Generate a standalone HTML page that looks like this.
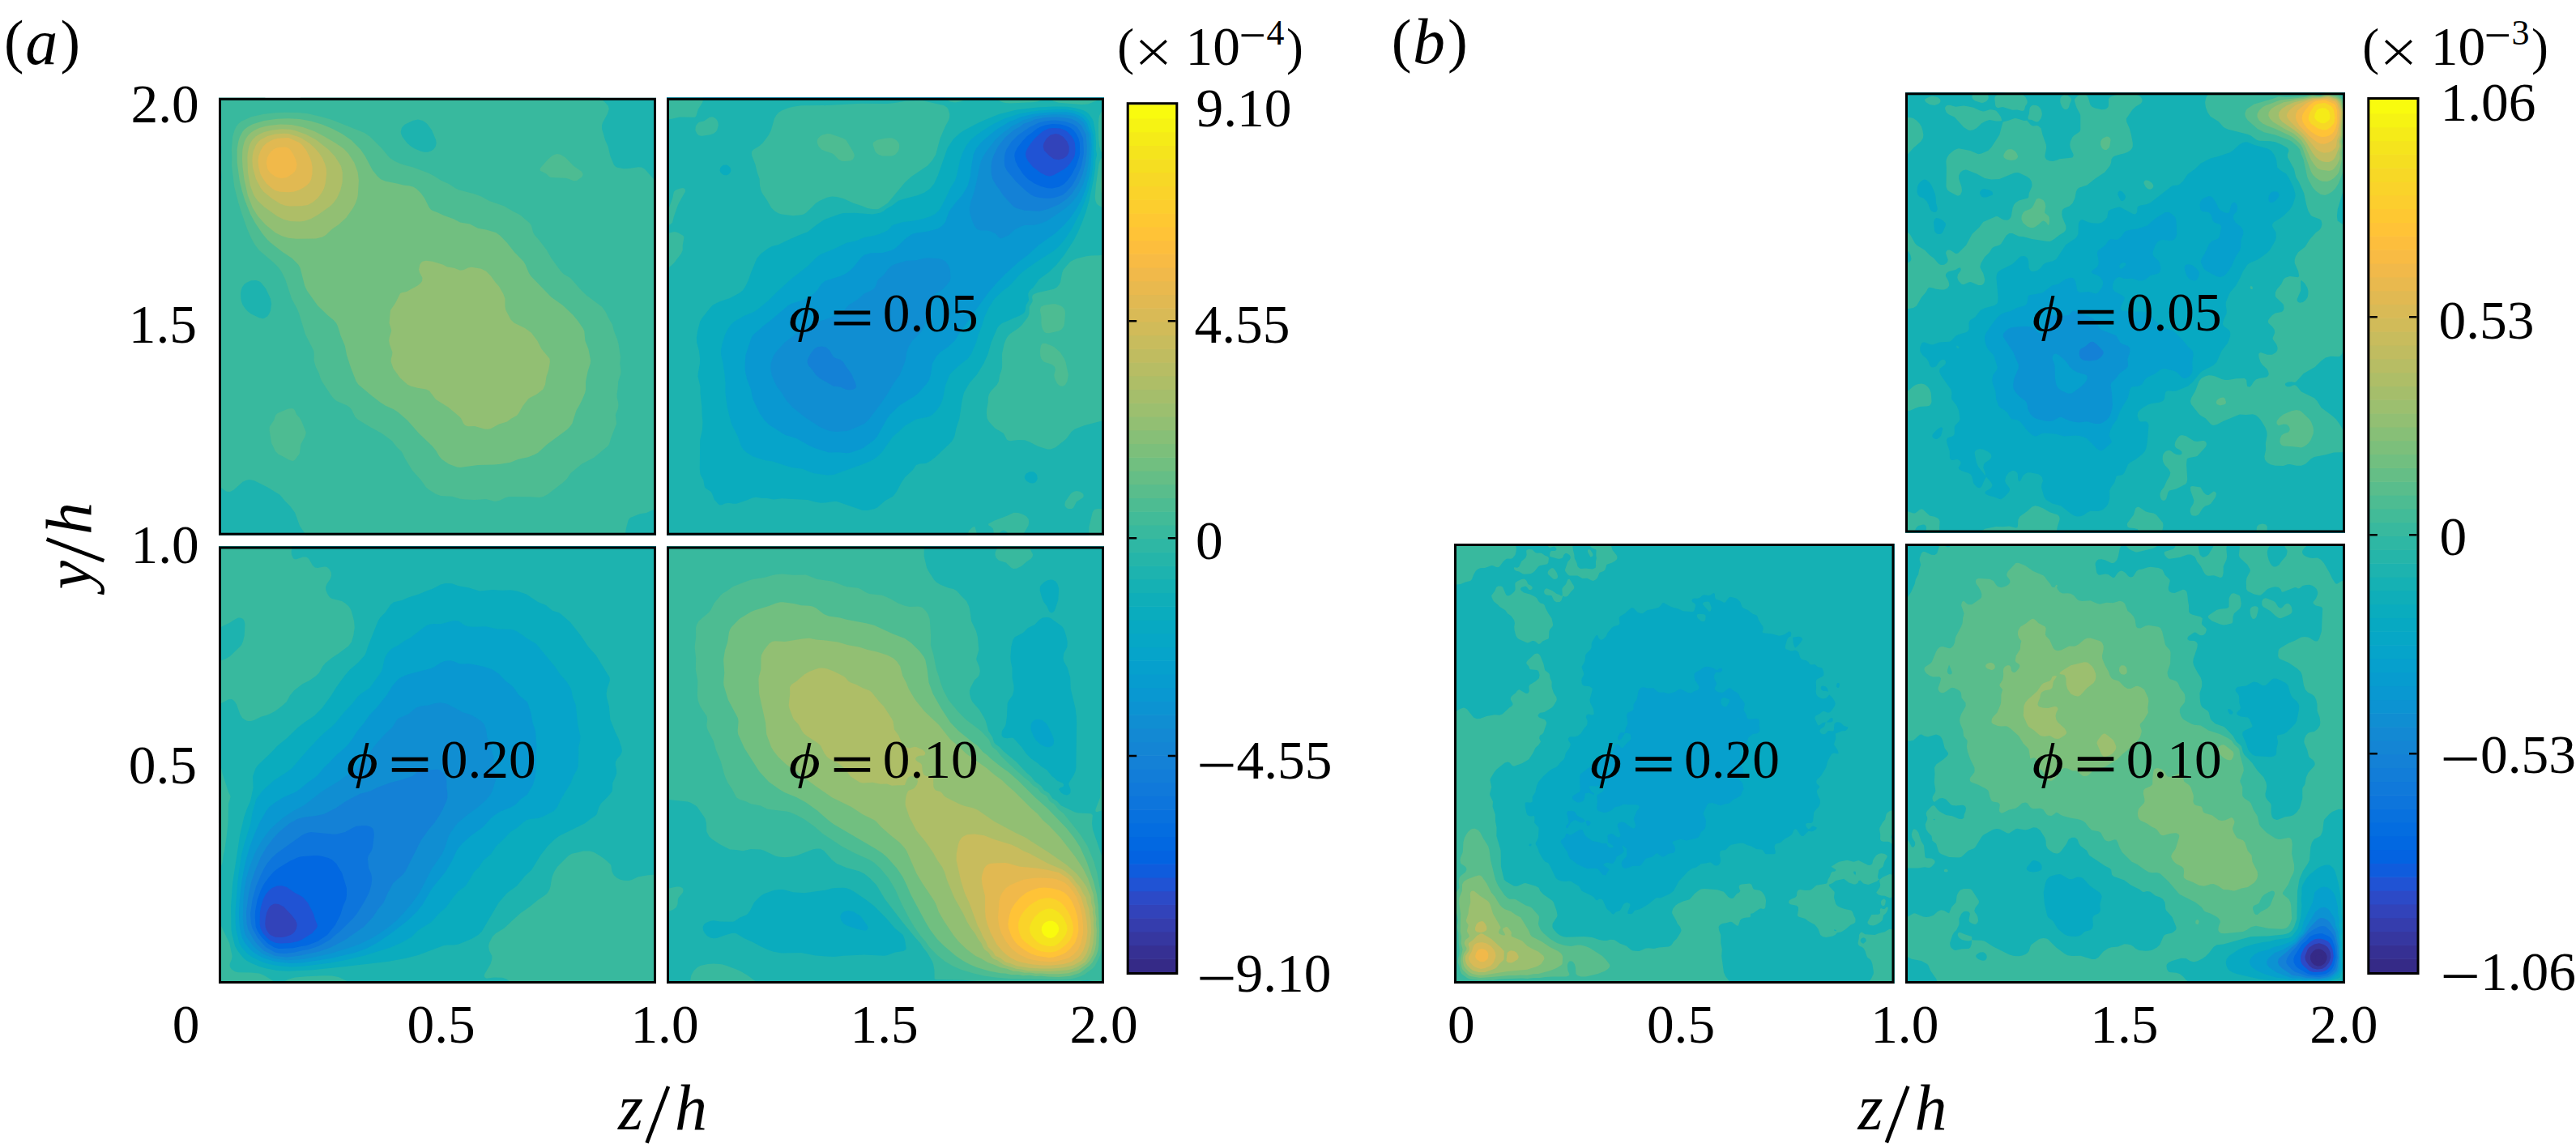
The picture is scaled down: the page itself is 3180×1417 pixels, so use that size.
<!DOCTYPE html>
<html><head><meta charset="utf-8"><title>figure</title>
<style>html,body{margin:0;padding:0;background:#fff}svg{display:block}</style></head>
<body>
<svg width="3180" height="1417" viewBox="0 0 3180 1417" font-family="Liberation Serif, serif" fill="#000">
<rect width="3180" height="1417" fill="#fff"/>
<g transform="translate(270,120.8)">
<g transform="scale(1.00000,0.99981)">
<g fill-rule="evenodd"><rect width="540" height="540" fill="#1db3af"/><path fill="#38b99e" d="M0 0l56.4 0 7.6 1 14-.7 14 1.3 4-.3 5.2-1.3 369.5 0 7.3 6.6 2.8 3.4 1 4-2 6-5.8 10.5-1 3.5 0 4 4 14 3.6 8 2.8 12 4.6 10.9 2 2 2 1 8 1.5 6-.1 12-1.9 4 .2 4 2.4 10 11.3 4 2.9 0 405.4-4 1-8 3.6-8 1.3-12 4.9-1.6 1.6-1 2-2.6 10-1.2 8-393.8 0-7.8-11.8-5.9-16.2-6.1-8.3-6-5.8-6.5-7.9-15.5-9.5-16-7.9-6-1.3-4 .7-4.4 2-11.2 10-4.4 2.4-4-.4-3.5-2-5-4-1.5-1.5 0-363.9 2.7-8.6 .9-8-.4-6-1.8-12 1.8-12 0-8-.8-6-2.4-8.9zM40 225.6l-6 2.6-2.3 1.8-2.9 4-1.3 4-.5 4 .3 6 .9 4 1.6 4 2.8 4 3.4 3.7 4 3.1 10 4.8 4 1 2-.3 4-2.6 2-2.6 2-4.4 1.1-8.7-1.1-6-6-12.7-5.9-7.3-2.1-1.4-4-1.3zM240 27.9l-10 4.7-3.4 3.4-1 2-.8 4 .2 2 1.6 4 6.1 8 4.7 4 4.6 2.8 7.6 3.2 4.4 1 4 0 4-1.2 2.7-1.8 1.8-2 1.2-2 1-4-.6-4-5-12-5.1-7.1-2-2-4-2.6-6-1.5z"/><path fill="#4dbc92" d="M81.5 18l16.5 .2 12 1.2 16 3.7 14 4.2 40 16 6.8 4.7 14.1 14 10.1 12 5.8 4 7.2 3.1 8 2.6 8 1.9 18 6.8 7.1 3.6 8.9 5.8 10 4.3 8 5.4 4 1.9 20 5.2 8 3.2 10 5.3 18 6.4 11.1 6.5 8.9 4.5 12 10.3 2 3.2 2.1 8 1.9 3.4 5.8 6.6 9.1 12 5.7 10 11.7 16 3.7 3.7 8 4.5 13.9 15.8 6.1 5.8 19.1 14.2 4.4 6 3.8 8 4.7 8 2 8 4 10 1.6 6 2.3 16-.7 8 1.3 10-.7 4-2.6 8-.7 10-1 6 .2 4 1.5 6 .2 4-.6 4-2.6 6-.3 2 1.2 10-6.9 18-2.2 7.5-1.9 2.5-16.8 14-15.3 8.1-12.1 9.9-2 2-3.9 6-4 4-20 15.5-6 3.1-4 .6-12-.7-26-.2-4 1.2-8 3.7-4 .9-2-.1-10-2.7-14 1.1-14-.9-4-.5-10-2.9-14-.9-6-2.1-8-5-4-3.4-6.1-8.7-10.8-12-8.6-14-4.5-9-6-5.7-6-7.7-12.9-9.6-15.1-8.1-14-8.5-3.5-3.4-4.5-9.2-2.4-2.8-3.6-2.4-12-5.2-4-3.1-2.7-3.3-11.9-18-1.9-4-1.7-6-4-8-2.3-8 .3-8-.6-4-10.2-20-7.9-26-2.5-6-6.5-12-8.1-24.6-4.9-9.4-3.1-4.6-6-6-18-15.2-4.8-6.2-4.7-8-5.3-12-6.3-18-4.5-14-5.1-20-3.2-26 .3-10-.5-10 1.3-16 2.3-8 2.5-5.1 2.3-2.9 3.7-3.1 12-5.5 16-3.4 14-1.5zM414.6 70l3.4-.7 4 .6 6 3.7 10 10.4 10 6.9 1.6 3.1-.3 2-1.4 2-5.9 4.1-4 .4-6-2.5-4-1-18-.9-2-.8-4-3.8-7.1-3.5-.4-2 1.1-2 8.8-10 4.7-4zM85.2 384l4.8-.8 2.3 .8 1.7 1.8 2 4.9 4 4.5 1.7 2.8 5.8 14 .2 2-1.1 4-5.5 10-1.1 10.2-.8 1.8-5.2 6.7-2 1.5-2-.1-4-1.5-6-3.6-6.2-3-3.8-3.7-4.9-10.3-2.5-16 .2-4 5.3-8 2-6 1.7-2 2.2-1.3z"/><path fill="#71bf80" d="M72.2 26l13.8-.5 14 .7 14 2.5 14 4.2 12 5 12 6.2 12 8.4 11.3 11.5 5.4 8 9.3 17.5 6 7.2 4 3.7 6 2.6 14 2.6 8 2.2 8 .9 4.4 1.3 3.6 2.2 5.8 5.8 4.3 6 5.9 11.7 2 2.3 2 1.3 6 2.1 8 3.9 12 4.2 8 4.2 12 2.1 10 5.1 10 1.8 12 3.6 5.3 3.7 8.7 9 8.6 11 11.7 12 2.3 4 4.2 10 2.5 4 25.2 26 14.1 10 12.7 12 6.5 8 6.2 9.1 1.3 2.9 1.1 12 4 10 2.7 14-.4 4-3.2 10-2.4 12 0 10-.9 4-2.2 5.4-4 8.6-4.6 8-5.1 16-2.3 3.4-4 4.2-25 18.4-10.8 10-4.2 2.4-8 3.1-12 2.6-10 4-12 1.9-8 .9-20 .4-22 3-4-.4-10-3.9-8.8-6-3.2-4-4-6.8-4.2-5.2-16.8-16-14.1-16-11.5-10-5.4-3.5-10-4.6-6-3.6-12-9.2-15.5-13.1-2.8-4-6.3-16-5.4-16.6-2.2-11.4-5.1-12-3.7-12-1.9-4-3.1-3.6-7.9-6.4-12.1-11.8-13-18.2-2.8-6-5.6-22-2.2-4-7.9-8-12.5-8.2-14-11-4-3.9-6-7.1-9.2-13.8-5.5-10-7.2-18-3.6-12-2.8-12-3-22-.1-16 1.6-10 1.8-5.9 3.3-6.1 2.7-3.2 4-3.1 6-3.3 14-4.3z"/><path fill="#92bf73" d="M63.9 34l12.1-1.3 14 .4 14 3.1 14 5.1 12 6.1 14 8.4 10 6.7 6 6.1 7.3 11.4 4.4 12 1.2 10-1.1 18-.8 4-2.1 6-3.1 6-8.5 12-9.3 8.4-8.1 5.6-7.9 7.5-4 2.3-8 1.9-24 .4-10-1.1-8-2.5-8-4-12-9.8-9.7-10.7-6.3-10-6-15.2-4.6-20.8-1.8-14-.6-10 .2-10 .9-6 1.7-6 1.9-4 2.9-4 3.4-3.2 4.2-2.8 5.8-2.7 8-2.3zM251.6 202l4.4-1.1 8 1 13 4.1 5 2.8 8.4 1.2 7.6 2.9 4-.3 6-2.9 4-.8 12 2.1 6 3 6 6 5.7 8 4.3 4.7 5.3 9.3 2.2 6 0 10 .8 4 6.4 12 4.2 4 13.1 6.2 7.9 5.8 7.5 10 5.1 10 10 12 .4 4-1.7 10-2.7 8-1.5 10-2.8 6-8.2 6.3-7.5 3.7-2.5 1.8-6.4 8.2-5.6 9.7-1.9 2.3-7.2 4-4.9 3.7-10 3.1-10 5.4-4 .8-4-.3-12-3.5-8 .3-2-.4-2-1-1.8-2.1-2.9-6-1.5-2-14.3-12-15.5-9.8-8-10.5-4-1.9-10.9-1.8-7.6-2-4.3-2-9-8-8.7-12-2.8-8 .1-4 1.2-4 .4-4-3.5-10-.8-4 .6-4 2.4-8-.1-2-2.5-8 1.5-15.7 6-8.9 6-11.8 2-1.2 6-1.2 14-7.7 3.9-3.5 1.2-2 .3-4-3.4-6.2-1-3.8 1.3-6 1.7-2.7z"/><path fill="#aebe67" d="M65.3 40l12.7-1.5 10 .5 6 1.1 14 5 12.5 6.9 15.2 12 7.5 8 7.7 12 1.9 8-.1 12-2.4 10-4.3 9.7-4.6 6.3-4.2 4-15.2 10.8-8 4.5-8 2.7-6 .8-12-.5-8-2.2-8-4.2-16-11.5-8-7.5-4-5.8-1.5-3.1-3.7-10-2.8-16-.7-18 .5-6 1.6-8 1.6-4 2.4-4 4.6-4.6 4-2.5 6-2.7z"/><path fill="#c8bc5d" d="M79.9 44l6.1 .2 12 3.8 4 1.8 9.9 6.2 6.7 6 5.2 6 4 6 3.5 8 1.5 6 .3 6-1.5 12-1.7 6-3.3 6-4.6 5.9-6 5-6 3.3-8 1.2-14 .4-6-.8-6-2.4-10-6.1-10.5-8.5-3.5-4.5-6.1-11.5-3.8-14-.7-8 .3-6 1-6 3.4-8 3.1-4 2.2-2 8.6-4.8 10-2.5z"/><path fill="#e1b952" d="M72.3 50l13.7-.7 14 6.1 2.8 2.6 4.8 6 5.1 10 1.9 6 1 6-.2 8-1.4 6.8-2 3.9-3.2 3.3-4.8 3.2-6 2.9-6 1.8-6 .5-10-.4-6-1.6-4-2.5-6.9-5.9-5.1-7.4-2.5-4.6-2.1-8-.8-8 .7-6 2.7-7.4 2.8-4.6 4.2-4 7-4z"/><path fill="#f1b94a" d="M70.8 62l3.2-.8 8-.4 4 1.1 2.3 2.1 3.7 5.7 3 6.3 1.5 6-1 6-1.5 2.6-3.4 3.4-6.6 4.2-6 1-4-.5-4-1.4-6-4.4-2.4-2.9-1.6-3-1.2-7 1.2-6.2 2-4 2.9-3.8 3.1-2.6z"/></g>
</g>
<rect x="1.5" y="1.5" width="537.0" height="536.9000000000001" fill="none" stroke="#000" stroke-width="3.0"/>
</g>
<g transform="translate(823,120.8)">
<g transform="scale(1.00000,0.99981)">
<g fill-rule="evenodd"><rect width="540" height="540" fill="#3243ba"/><path fill="#2053d4" d="M0 0l540 0 0 540-540 0zM474 45.8l-4.9 4.2-3.6 6-.8 4 1.3 4.9 6.9 7.1 5.1 3.4 6 1 6-1.7 4-3.1 2-3.4 .6-2.2 .1-6-2.3-6-5.1-6-5.3-3.1-4-.6z"/><path fill="#0268e1" d="M0 0l540 0 0 540-540 0zM472 37.8l-5.4 2.2-3.2 2-8.9 8-4.9 6-4 6-2 4-.6 4 .9 4 2.1 3.9 6 7.3 10 7.6 6 2.8 4 1 2-.1 4-1.2 12-6.8 4-3.1 4-4.4 4.5-7 1.5-4 .5-6-.5-8-1.4-4-2.6-4.5-5.2-5.5-3.1-2-5.7-2.2-8-.7z"/><path fill="#0d75dc" d="M0 0l540 0 0 540-540 0zM468 33.5l-6 2-4.8 2.5-13 10-5.5 6-6.1 8-2.9 6-.4 4 1.3 6 2.7 6 6.7 10.2 5.5 5.8 8.5 5.7 8 3.6 8 2.2 6 .2 8-1.7 6-3.3 4.8-4.7 5.2-7.2 5.5-10.8 4-12 .6-4-.2-12-1.5-6-3-6-3.4-4.3-4-3-6-2.6-6-1.4-10-.5z"/><path fill="#1481d6" d="M0 0l540 0 0 540-540 0zM474 27.9l-8 1-6 1.6-12 5.7-14.1 9.8-8.1 8-6.6 10-1.8 6-.7 8 .5 6 2.9 6 11.8 14 12.1 11.3 6 4.4 4 2 6 1.5 10 .9 8-.6 10-3.4 4-2.7 8-8.5 6-10.5 4.5-10.4 2-6 2.4-14-.8-18-4.1-9.1-3.5-4.9-4.5-3.3-10-3.6-12-1.3z"/><path fill="#108ed2" d="M0 0l540 0 0 540-540 0zM186 307.6l-4 2.4-4.5 6-3.2 6-.7 4 1.1 4 5.3 6 4.2 6 4.5 4 17.3 10 8 .7 7.3 3.3 2.7 .6 4 0 4-1.3 1.3-1.3 .7-2-1-4-5.3-12-6.1-8-3.7-6-3.9-3-6-1.9-2-1.1-4.7-8-4.4-4-4.9-1.3zM474 23.9l-6 .4-14 2.3-6 3.1-7.4 2.3-4.6 3.8-7.7 4.2-10.3 8.8-7.4 9.2-2.6 4-4.7 10-1.9 6-.9 6 .3 10 1.5 6 3.7 6.8 5.4 7.2 3.6 6 13 14 4 2.2 10 2.8 18 .9 10-2.4 14-5.9 10-6.9 6.5-6.7 7.9-12 5.1-12 3.6-14 1.5-12 .2-8-1-14-5.8-11.8-6-5.2-6.3-3-9.7-1.6-8-.6z"/><path fill="#0998d1" d="M0 0l540 0 0 540-540 0zM318 197.9l-10 2.7-12 .4-14 4.2-4 1.9-5.2 4.9-4.8 6.6-6.6 5.4-1.3 2-2.1 6.4-2 3-3.9 2.6-8.1 3.5-8 7.2-11.6 7.3-6.4 7.7-2 1.7-16 6.6-18 6.5-8 3.9-8 5.6-7 4-13 9.7-10 10.7-4 5.6-3.5 10-.4 6 1.6 8 3.1 8 3.1 6 6 8 6.2 10 7.9 8.5 14.3 11.5 18.4 12 7.3 3.6 8 2.2 6 .4 12-1 4-.9 18-8 6-5.7 15.4-20.6 8-12 7-12 7.6-10.5 6.8-17.5 1.4-10 2.2-6 4.6-8 10.2-10 2.7-4 3.2-8 1.7-10 9.3-24 1.9-2.3 8-4.6 6.7-7.1 2.9-4 .8-4-.6-10-2.5-6-3.3-4.2-4-2.4-4-.9-14-1.1zM462 21.8l-8 1.2-8 3-6 1.4-6 3.8-8 3.7-4 3.3-6 3.9-10 9.4-9.9 12.5-5.2 8-2.9 6.5-1.7 5.5-3.4 18-3.4 14-4 12-1.6 8 .2 6 3.1 10 2.8 6.1 2 2.8 2 1.7 4 1.2 8 0 4 .9 6.4 3.3 3.6 4.5 2 1 2-.3 8-3.4 8-7.4 8-3.9 4-1.2 12-.3 10-2.8 6-2.7 18-12 10-8.1 4-4.3 6-8.2 5.6-10.9 4.1-12 2.5-12 1.3-12 .8-14-.8-4 0-8-.4-2-2.4-4-2.7-7.3-2-2.9-4.9-3.8-5.1-3-4-1.1-8-1.2-14-.3z"/><path fill="#06a4ca" d="M0 0l540 0 0 540-540 0zM474 17.8l-12 .9-12 1.8-13.9 3.5-6.1 3-6 1.9-15.3 9.1-8.7 6.6-12 10.6-6 7.6-3.3 7.2-2.8 16-1 10-2.5 10-1.5 4-6 10-8.9 10.2-7.3 9.8-4.7 13.2-2 2.9-4 3.5-4 2.1-6 1.9-8 1.6-12 1.5-4.6 1.3-7.4 4.8-14 13.1-6 2.9-10 2.5-14 .3-8.1 2.4-3.9 3.1-10 12.7-6 5.3-4 2.5-5.5 2.4-19 6-4.8 4-5.2 8-4.2 4-5.3 3.6-8 4.2-14 4.2-4 2.2-22 18.9-9.5 6.9-4.5 4.6-6.8 5.4-2.6 4-7.3 22-.8 14 .5 6 2.3 10 4.8 12 1.8 10 1.5 4 7.7 16 5.7 8 5.2 5.4 20 12.6 14 4.2 16 9 8 3.6 16 4.9 12-.2 10 1.1 4-.3 12-3.9 4-1.9 14-10 3.8-4.5 12.3-22 3.9-5.2 12-11.6 18-10.9 5.1-4.3 10.6-12 2.3-3.6 1.9-6.4 2-14 4.5-8 5.3-6 8.3-5.5 9.4-8.5 8.8-14 9.8-12.4 7.6-11.6 15.8-22 10.6-12.3 10-10.3 18-16.2 9.9-7.2 13-12 21.1-15 10-9.6 8-8.9 8-11.8 6-10.9 6-15.3 1.3-6.5 2-6 2.2-14 1.2-24-1.1-16-1.9-4-2.5-8-1.1-2-4.1-4.8-4.6-3.2-7.4-3-8-1.5z"/><path fill="#0aacbe" d="M0 0l540 0 0 540-540 0zM460 15.8l-10 1.1-14 2.5-18 5.8-14 6.8-6 3.5-14 9.1-8.8 7.4-6 8-4 8-2.8 8-4.4 20-1.9 6-6.1 9.8-5.6 12.2-6.4 12.1-2 2.9-4 4-6 3.2-10 3.3-14 2.8-10 1-12 3.5-2.3 1.2-3.1 4-2.4 2-9.1 4-6.6 2-12.5 2.3-10 4.1-12 2.6-16 7.7-16 6.6-4 2.8-12.2 11.9-20.6 16-17.2 15.8-10.3 10.2-13.7 11.6-4 2.5-12 4.8-12.4 7.1-4.5 4-3.9 6-3 6-3.8 12-1.4 8 .3 6 1.9 8 2.4 16 .9 10-.1 12 2.4 18 5 20 8.1 16 4 12 2.7 4 3.4 3.4 8 5.1 12 4.1 4 1 8 .9 24 7.7 14 1.9 10 4.3 4 1.2 16 2.1 8-.5 34-12.1 10-4 5.8-3.1 5.3-4 4.9-5 13.3-19 6.7-5.5 8-7.6 14-8.2 16-3.3 4-2.4 4-3.7 5.3-7.3 2.7-5.9 1.7-6.1 2-12 5.5-14 2.8-3.5 10-9 9.6-7.5 4.4-6 6.1-14 2.7-10 4.1-10 3.5-12 5.6-11.6 6.6-10.4 10.6-10 8.1-6 12.5-14 4.6-4 16.8-12 20.8-13.2 6-5.3 8-9.4 8-12 11.1-22.1 5.7-14 4.4-14 3.1-14 2-14 0-6 1-8-.7-24-4.6-16.6-4-5.4-4-3.6-4.8-2.4-7.2-2.3-10-1.4-14 .1z"/><path fill="#1db3af" d="M0 0l540 0 0 540-540 0zM70 82.9l-2 1.3-2 2.5-.4 3.3 .8 2 3.6 3.1 4 .4 2-.8 2.7-2.7 .6-2-.2-2-.9-2-2.2-2.4-2-1zM458 11.8l-26 2.8-22 5.6-16 6.5-10 4.6-16.6 8.7-5.4 3.4-8 7.2-7.4 11.4-11.9 34-4.6 10-4.8 6-7.3 5-8 3.3-18 4.6-6 2.1-8 6.2-6 3.2-4.5 3.6-3.5 1.8-10 1.9-22-1.8-14 .3-4 1-16 5.7-4 1.9-8 5.3-12 9.3-10 3.8-18 8-8 4.1-8 1.9-4 2-9.2 6.8-5.4 6-7.4 18-3.5 10-4 8-3 4-3.5 2.7-12 6.5-12 4.1-5.8 2.7-3.4 2-2.8 2.7-10.5 13.3-2.3 4-3.1 12-1.2 8 .2 6 2.8 10 1.2 10-.2 6-2.2 12-.2 4 2.9 12 .2 10 1.8 16 .1 8 .9 10-.5 10-2.7 12-.4 36 .6 6 .6 2 3.4 6 1.4 8 1.4 2 6.2 4 1.4 2 3 8 5.2 5.8 2 .9 2-.1 4-1.7 4-.8 6 1 4-.1 12-3.9 8-3.3 4-.8 8 1.3 6 .1 8 1.4 10-1.2 32 1.6 10 2.9 6 .9 6-.2 10-1.6 4 0 32 11 6 .2 8-1.8 4-1.8 10-8.7 8-4.3 2-1.6 3.9-5.2 6.1-11.4 4.4-6.6 8.9-8 4.7-6.8 4-1.4 8-.5 6-3.3 6-4.7 20-19 3.3-6.3 2.1-10 4-12 3.2-22 2.3-10 6.9-12 8.9-10 8.6-14 5.4-12 3.9-14 7.4-17.6 2-2.8 4-3.3 22-9.5 4-2.4 2-2.1 .8-2.3 .7-6 3.6-6-1-8 1.9-3.9 4.6-4.1 7.4-10.2 12-8.8 9.3-9 9.5-12 11.7-18 5.2-10 5-12 5.2-14 3.8-14 5.4-26 2-14 .2-8 1.8-8-1.3-6 .3-8-1-14-2.1-12-1.5-4-4.3-6-3.2-2.7-4-2-10-2.9-10-1.4-16-.4zM448 461.6l-4 2.2-1.7 2.2-.5 2 .3 2 1.9 2.7 4 2.6 4 .5 2-.5 1.7-1.3 1.4-2 .6-2-.5-4-1.3-2-1.9-1.6-2-.9z"/><path fill="#38b99e" d="M3.4 0l41.9 0 0 2-1.3 4-5.1 8-2.4 8-.5 1-1.4 1-18.6-.2-10 2.2-6 .5 0-22.2 2.6-2.3zM343.1 0l32.2 0-13.3 4.6-6 1.1-6-1.1zM403.9 0l136.1 0 0 137-7.9-5-1.7-2-1.3-4-.4-4 1.3-15.5 3.5-24.5 1.1-4 3.3-6 .2-2-2.8-6-1.1-4-1-10-.2-16 .4-8 .7-4 4.1-8 1.2-4-.1-2-1.3-2.8-2-1.6-4-.6-12 4.8-8 .4-28-2.3-6-1.8-6-2.8-2-.4-4 .8-8 2.7-6 1-28 1.4-6-.6-4-1.1zM295.2 4l20.8-.6 26 5.7 4 2.7 1.5 2.2 1.8 6-.2 4-1.2 4-3.9 7-6.5 15-5.3 20-4.2 7-6 6.7-20 13.6-8 7.1-21.2 25.6-10.8 7-2 .6-6-.3-6-1-8-3.4-9.5-2.9-12.5-5.9-8-1.9-6-.6-6 1.3-10 4.5-4 2.9-12 11.6-3.6 2.1-2.4 .6-10 1-14-1.8-4-1.3-4-2.2-4.6-4.3-5.8-10-5.5-8-1.8-4-1.3-6-.4-8-2.9-8-2.3-10-4-10-.6-4 .5-2 1.7-2 7-4.4 4.4-3.6 7.5-10 3-6 3.9-14 2.1-4 3.1-3.7 4-2.5 8-3.4 6-1.5 10-1.4 32-.2 42-2.3 32 .1 8-.7zM52.9 24l3.1-.6 2 .5 2 1.2 2 2.2 1.3 2.7 .5 4-1.6 6-1.6 2-2.6 2-4 1.4-10 1.6-2 0-2.9-1-1.9-2-1.8-4 .3-4 .7-2 1.6-2.3 2-1.7 6-1.4zM15.9 112l4.1-.7 2 .6 1.1 2.1-.3 2-7.9 14-1.7 4-4.1 12-2.1 8-2 2-5 1.5 0-19.3 2-1.1 .7-1.1 4.5-12 1.7-8 2-2zM6.4 166l3.6-.7 4 1.1 6.2 3.6 1.3 2-1.8 10 0 6-1.7 4-9.1 12-4.9 4.4-4 2 0-42.7zM536.9 194l3.1-1.7 0 205.8-24 6.2-12 4.6-4.2 3.1-5.8 8-2 2-12 9.5-6 2.3-4 0-11.9-3.8-10.1-5.3-6-2.2-8-.2-10 1.2-2-.4-2-1.1-4.2-8-10.3-6-7.5-8-2.3-4-.8-6 .3-6 1.5-8 .2-6 .9-4 2.5-4 7.5-8 2.1-4 1.3-8 2.2-6 .7-4-.1-16 2.6-12 2.2-6 2.6-4 2.6-2.7 10-6.9 4-3.5 8-10.4 1.6-4.5 .1-8 3.7-6 .3-2-.7-4 1-2.7 2-1.4 4-1.4 20-4.4 3.4-2.1 2.6-2.8 2-3.4 2.2-11.8 1.5-4 8.3-9.5 4-2.3 4-1.6 12-3 6-.9 10-.2zM502.9 486l3.1-.6 4 .6 3.2 2 1.4 2 .1 2-1.5 2-7.2 4.5-4 7.5-2 1.4-4-.1-2-.8-2.3-2.5-.3-2 .6-3.4 6-8.9 2-2.1zM528.4 508l3.6-.6 8 .2 0 32.4-18.5 0-.2-10 4.3-18 .9-2zM428.5 512l5.5 .2 5.3 1.8 4.7 2.5 2.7 3.5 .5 4-.8 4-4.6 8-1.7 4-17.8 0-2.3-4.1-2-1.4-2-.6-2 .3-2 1.3-1.3 2.5-.2 2-7.2 0 .4-4-.8-4-2.9-3-2.4-1-.8-2 7.4-4 15.8-5.9zM377.5 530l2.5-.8 .7 .8 2.8 10-12.2 0 .7-3.3 1.4-2.7zM0 540l0-.8 .6 .8z"/><path fill="#4dbc92" d="M539.8 36l.2-.9 0 22.4-1.5-9.5zM191.7 46l6.3-1.8 4 .3 16 5.5 3.4 2 8.6 14.3 1.6 3.7 .2 2-1.8 3.6-2 1.5-2 .6-6 .6-4-.4-3.9-1.9-5.6-6-2.5-1.5-12.7-4.5-3.6-4-1.7-3.7-.3-2.3 .2-2 1.1-2 1.8-2zM269.3 50l6.7-.6 3.3 .6 3.9 2 2.8 3 1.2 3-.1 4-1.3 4-3.5 4-4.3 1.8-12-.1-4.5-1.7-2.6-2-1.6-2-2.7-8 .1-2 1.3-1.9 4-2.1zM539.9 82l.1 41.2-2.3-3.2-1.4-4-.8-8 1.4-16zM465.9 256l10.1-1.6 4 .2 6 1.9 2.5 1.5 1.9 2 1 2 .6 4-.9 12-.8 4-3 4-3.3 1.7-12 2.8-4-.2-2-1.6-2-3.5-1.1-3.2-.5-4 0-8-1.6-8 1.2-4.1zM463.1 304l.9-.7 2-.4 2 .4 8 3 2.8 1.7 6.9 6 5.1 8 1.7 4 3.4 16-1.4 8-2.3 4-2.2 1.5-2 .5-2-.3-2-1.1-2-2.2-2-3.7-1.6-4.7-.1-2 1.5-6-.2-2-.8-2-2-2-2.8-1.5-8.2-2.5-3.4-4-1.2-4-.2-6 .9-6z"/></g>
</g>
<rect x="1.5" y="1.5" width="537.0" height="536.9000000000001" fill="none" stroke="#000" stroke-width="3.0"/>
</g>
<g transform="translate(270,674.5)">
<g transform="scale(1.00093,1.00000)">
<g fill-rule="evenodd"><rect width="539.5" height="539.5" fill="#3243ba"/><path fill="#2053d4" d="M0 0l539.5 0 0 539.5-539.5 0zM67.9 441.2l-4 2.4-1.7 2-2.9 6-1.4 6-.7 8 .4 4 1.4 4 2.6 4 2 2 6.3 2.6 8 .3 5.4-.9 5.5-2 3.1-2 1.8-2 2.1-4 .8-4-.2-2-1.6-4-4.9-6.7-10-10.4-6-3.1-4-.5z"/><path fill="#0268e1" d="M0 0l539.5 0 0 539.5-539.5 0zM71.9 419.1l-6 2.4-4 3.2-4 4.9-3.1 6-2.8 9.5-1.1 6.5-.3 14 .9 6 3.1 6 5.3 5.7 4 3.1 6 2.9 6 .8 12-.5 9.5-2.1 4.8-1.9 12.9-8 5.3-6 1.1-2 .3-2-3.2-8-1.7-6-7-13.9-6-6.6-4-2.6-6-3-10-7.1-6-1.6z"/><path fill="#0d75dc" d="M0 0l539.5 0 0 539.5-539.5 0zM117.9 381.6l-16 1.2-4 1-10 4.5-14 8.4-6 4.8-6 6.8-6 8.2-3.9 7.6-4.2 11.5-2.7 14-.4 8 1 12 2.3 5.3 4.4 6.7 7.5 8 8 5.1 6 1.7 18-.6 10-2.3 6-.7 14-5.4 12-7.8 9.7-12 6.2-12 3.7-12 3.6-8 .8-6-.2-8-5.5-18-7.2-12-5.1-4.9-4-2-8-2.2-5-.9z"/><path fill="#1481d6" d="M0 0l539.5 0 0 539.5-539.5 0zM169.8 345.3l-4 1.6-9.9 5.5-10 2.7-4 .2-28-2.9-4 .8-4 1.5-4 2.3-30 21.5-6 5.5-6 7.1-4 6.4-3.9 7.9-5.9 14.2-4.5 16-2.6 18 .9 12 1.7 6 6.7 12 9.6 10.8 12 6.8 4 .9 8 .3 12-1.4 10-2.6 6-.7 14-4.7 14-8 4-3.8 7.2-5.6 16.1-16 4.6-5.4 9.2-14.6 5.4-10 1.7-4 2.1-8 .8-6-.2-4-1-4-2.7-6-1.4-12 1-4 3.7-5.9 1.4-3.9 1.9-16.1-.9-6-1.2-2-2.9-2-4.9-1.1-4-.2z"/><path fill="#108ed2" d="M0 0l539.5 0 0 539.5-539.5 0zM263.8 275.6l-6 .6-10-.3-2 1-4.4 4.8-3.6 2.3-14 4.5-12 2.9-16 6-8.4 4.3-13.6 3.9-17.9 9.4-12 8.2-14 7-10 2.4-14 1.4-8 1.9-10.6 5.8-13.4 11.4-6.2 6.6-9.2 12-6.7 11.9-7.4 18-4.1 12-3.5 16-2.9 22 .6 14 1.5 5.9 1.6 4.1 7 11.9 3.3 4 8 7.8 14 6.3 14 1.5 13.8-1.6 26.2-5.6 14-5 18.2-9.3 22.8-16 11.2-12 5.7-8.9 7.6-9.1 4.4-10.3 7.3-13.7 10.7-9.4 4.1-4.6 19.9-39.4 8.9-12.5 7.1-8.3 6.5-9.7 3.4-6 5.4-12 1.1-4 0-4-1-8-.3-10-1.1-4-2.5-4-3.6-3.2-3.9-1.2z"/><path fill="#0998d1" d="M0 0l539.5 0 0 539.5-539.5 0zM265.8 193.8l-6 1.9-10 1.3-6 1.8-10 8.2-12 5.1-2 1.8-6 9.6-7 6.3-9 9.6-6.9 8.4-5.2 8-16.1 17.9-19.7 14.7-22 13.7-23.1 17.6-12.9 6.9-12 7.9-10 8.4-6.9 6.8-9 12-7 12-3 6.4-5.9 15.5-4 14-2.5 14-1.3 14-.7 20 1.3 14 1.3 6 1.8 4 8.8 11.9 11.2 9.2 13.9 5.8 16 2.2 20-1.2 16-2.9 18-4.2 16.6-4.9 17.8-6 15.5-7.4 10-6 10-6.9 12-9.9 10-10.7 8-9.5 9.8-13.5 15.4-30 12.7-18.3 3.3-7.6 4.6-14 2.1-4 6-8.8 4-4.4 12-10 10-7 11.1-9.8 5.3-6 2.4-4 1.6-4 3.7-12 .3-4-1.2-4-2-4-.9-4 1.3-7.9-.1-4-3.2-10-1.3-6-3.6-8-1.4-10-2.2-6-3.8-4.4-10-6.2-4-1.9-8-2.2-20-10.9-8-1.4z"/><path fill="#06a4ca" d="M0 0l539.5 0 0 539.5-539.5 0zM277.7 141.8l-4 1.7-7.9 5.3-4 1.8-28 7.2-8 3.2-4 2.6-8 9-6.7 11.2-13 16-7.9 8-6.4 9.4-8.8 10.6-6.4 10-4.7 6.3-3.5 3.7-11.5 10-9 9.5-6 5.5-7.3 8.9-4.4 4-9 6-6.9 6-6.4 4.7-4 2.2-12 4.9-10 6.2-7.8 6-3.1 4-9 15.8-6 13.9-6.1 16.3-3.9 13.9-3.9 18-2.3 14-1.9 18-.9 16 .2 10 .7 8 1.5 8 1.8 6 3.1 5.9 6.7 8 5 4.2 10 5.9 15.9 4.9 18 2 16-.7 34-5.4 29.9-6.9 14-5 14-7.4 14-9.6 12-8.9 12-9.7 10-9.5 7.9-9.8 11.7-20 16.4-20 8.2-14 5.7-12.7 6-7.6 10.4-9.6 15.6-11.2 10-10.9 4-3.6 8-4.9 12-4.9 4.6-2.5 3.4-2.6 4.9-5.4 7-4.7 2-2.5 6.1-10.8 2.4-8 1-8 .1-19.9 .8-10-1.3-20-3.5-10-2-12-3.6-11.4-1.3-2.6-10.6-8.8-6.2-9.2-2-2-7.8-5.7-8-8.9-8-5.2-10-3.5-14-3.1-6-.6-10 .3-8-3.3-4-1-4 .1z"/><path fill="#0aacbe" d="M0 0l539.5 0 0 539.5-539.5 0zM289.7 91.5l-16 4.3-9.9-.3-6 1.3-4 2.4-18 14-6 2.8-8 5.7-6 3-4 2.9-4 4.7-3.1 5.6-3.1 14-1.8 3.8-14 19.3-10 6.6-4 3.4-6.9 8.8-11 11.6-10 12.5-4 4.2-10 8.2-7.6 7.5-14.9 16-17.1 19.9-6.4 4.9-16 10.5-13.9 12.5-7.6 10.1-4.7 16-2.3 14-8 26-3.6 13.9-4.4 32-2.9 38 .2 14 .8 8 3.9 15.9 2.6 4.7 6 7.1 4 3.5 4 2.5 12 5.8 7.9 2.3 12 2.4 16 1.1 16-.8 32-4.2 16-2.9 25.9-5.9 32-10.2 14-6.2 12-6.8 8.5-8.3 16-10 9.4-10.7 8.6-7.3 8.7-12 6.5-8 8.2-5.8 1.9-2.2 9.5-16 6.1-6 5.1-8 9.6-8 6.4-9.9 7.4-6.8 10-10.4 8-4.9 8-7.2 3.9-2.6 4-1.2 10-1 6-2 12-6 2.6-1.9 3.2-4 4.8-10 12.1-20 2.9-8 4.7-8 1.3-4 .7-15.9-.2-8 2-8 .2-6-3.1-14-2.4-24-3.9-10-1.5-8-1.5-4-5.3-8-7.1-7.9-5.5-8.4-24-29.3-10-6-13.9-9.5-6-2.2-18-.6-14-3.1-16 .5-6-.5-4-1.3-8-5.4z"/><path fill="#1db3af" d="M0 0l539.5 0 0 539.5-539.5 0zM279.7 45.6l-6 1.5-9.9 5.1-8 2.7-8 3.5-14 4.7-8 3.5-10 2.2-4 3.1-6 9-6.8 7-2.5 4-12 30-2.7 8.6-1.5 3.4-8.5 9.7-10 8.5-5.9 6.7-10.9 15-6.1 10-11.7 16-9.3 9.2-12 8-8 6.2-14 13.6-12 9.8-6.6 7.2-16.8 16-2.9 3.9-3.6 10 .6 14-3.4 16-4.4 10-3.5 10-5.1 22-9.1 59.9-2 28 .4 30 1 6 3.7 13.9 3.8 6.4 6 7.6 4 3.4 6 3.3 10 4.4 7.9 2.2 14 2.7 14 .7 30-1.5 38-3.9 55.9-6.5 20-3.7 16-4.1 31.9-12 4-.6 8 .1 6-.9 16-6.6 8-4.8 4.6-4.1 21.1-36 10.3-11.9 12-8.8 10-12.2 7.9-7.2 11.2-17.9 9-11.9 7.8-7.4 6-4.7 32-15.9 6-4.8 6-3.8 1.6-1.4 1.3-2 2.4-8 2.7-4.7 7.5-7.3 5.1-6 1.2-2 .4-10 3.7-8 1.2-4-.1-4-1.3-5.9 .2-4 2-3.7 4-4.5 1.7-3.8 .2-2-.7-4-3.3-10-4-8-6.5-16-1.4-16-3-12-.4-4 1-6 3.3-10-.2-4-17.1-27.9-9.1-10-9.4-14-13-16.5-12-10.3-2-1.3-8-2.6-8-6.8-10-3.9-14-9.4-11.9-4-8-1.3-10 .5-12-.9-16 1.5-14-4.2-12-2-8-3z"/><path fill="#38b99e" d="M0 0l89.9 0 .3 2-.7 4 .3 4 2.1 4.7 2 1.1 2-.1 8-2.8 4 .2 2 1.1 1.7 1.8 4.3 7.4 2.8 2.6 3.2 .6 8-1.7 2 .1 2 .7 2.5 2.3 2.2 4 .3 4-1.2 4-4.2 6-1.6 4 .3 4 1.6 3.9 2.1 3.7 2 1.9 2 .9 12 3.1 4 2.4 4 3.6 2 2.4 1.8 4 3.2 12 .7 8-1.5 10-2.4 8-3.8 5.1-12 9-8 5.2-8.4 6.7-3.4 4-4.3 8-3.9 3.8-8 5.7-8.7 4.4-10.2 8-5 6-4.4 8-5.7 5.3-8 5.8-6 3.4-4 1.8-7.9 2.1-8 4.1-4 1.2-4 .1-2-.6-4.8-3.2-2.6-4-4.6-12.9-2-3.1-2-2.1-2-1.1-4 .1-12 6.6 0-53.9 4-.9 4-1.6 6-3.5 13.8-13.5 1.9-4 2-8 .7-14-.8-4-1.6-2.3-3.3-1.7-2.7 .1-4 1.9-6.1 4-8.4 4-5.5 3.3zM0 263.8l0-2 2 6 2.4 11.9 7.6 23.2 2.3 4.8 .1 2-2.4 8-.5 24-2.1 18-2.3 16-1.5 5.9-.9 8-2.7 8-.3 6-1.2 6-.5 11.8zM442.7 377.7l6.9-1.6 8-.1 5.3 1.6 6.7 3.9 5.8 4.1 7 6 1.4 2 1.3 8 2 4 4.4 3.9 4 1.7 4 1 6 .2 4-.8 8-3.9 12-1.9 10-.7 0 134.4-179 0-1.1-2-2.1-2-3.6-2-4-1.3-10-.2-8 1-2-.1-1.9-1.4-.4-2 .7-2 7.1-12 1.8-6 .1-4-3.4-6.5-.9-5.5 .8-4 4.1-7.9 4-4.1 10-5.9 20-18.7 11.9-8.1 10-8.2 10.2-7 1.8-2 2.4-4 1.2-4 1.2-8 1.2-4.8 2.2-5.2 3.8-6.1 14-14.1 4-2.2zM0 461.6l0-1.6 1.6 5.6 11.6 23.9 3.4 16-.6 4-2.4 6 0 2 .6 2 1.8 2.5 4 2.8 4 1 16 .1 10 1.1 6.1 2.5 13.8 8.5 4 1.4 2-.1 10-5.1 8-2.1 14-1.4 22-1 10 .4 7.8 1.4 17.1 8-164.8 0zM178.9 539.5l16.9-1.6 6 .3 7.7 1.3z"/><path fill="#4dbc92" d="M0 495.5l0-.9 0 4.6z"/></g>
</g>
<rect x="1.5" y="1.5" width="537.0" height="536.5" fill="none" stroke="#000" stroke-width="3.0"/>
</g>
<g transform="translate(823,674.5)">
<g transform="scale(1.00093,1.00000)">
<g fill-rule="evenodd"><rect width="539.5" height="539.5" fill="#06a4ca"/><path fill="#0aacbe" d="M0 0l539.5 0 0 539.5-539.5 0zM223.8 449.4l-4 .9-2 1-2.4 2.3-1 2-.3 2 1.1 4 3 4 3.6 2.2 14 4.8 8 1.5 2-.2 2-1.4 .5-.9-.1-2-1-2-7.2-10-1.9-2-8.3-5zM455.6 213.6l-4 2-2.4 4.2-.1 6 3.1 8 3.8 6 5.6 4.9 6 2.7 4 .3 2-.6 2-1.2 1.5-2.1 .6-4-1-4-6.3-14-2.8-3.8-4-3.2-4-1.3z"/><path fill="#1db3af" d="M0 0l539.5 0 0 539.5-539.5 0zM207.8 421.5l-4 .4-8 2.3-26 3.5-13.9-1-12-3.2-6 0-6 1-12 4.2-4.1 2.9-7.9 7.6-5 10.4-3 3.9-2 1.5-8 3.3-6 4.2-2 .8-16-.2-8-1.4-3.9 .5-6 2.5-2 2-1.4 2.9 .3 4 2.1 4 3 3.1 4 2.2 3.9 .8 4-.3 8-3 10-2.9 4-.2 2 .5 9.4 5.8 12.6 5.6 8 4.6 10 4.4 6 2 10 1.7 23.9-.4 18 3.6 22 1.3 12-1.2 26-1.2 24 1.2 3.9-.5 10-3.7 10.3-1.5 3-2 .4-2-1.7-9.9-2.3-6-9.7-8.1-12.1-13.9-13.8-13.9-10-7.7-14-9.5-5.2-2.9-4.8-1.8-4-.6zM469.6 41.7l-4 2.3-4.1 4-1 2-.3 4 2.8 9.9 1.7 4 4.4 6 2.5 6 2 1.8 2 0 2-1.4 1.3-2.4 4-12 .8-13.9-1.8-6-2.3-2.9-4-2-2-.2zM463.6 87.9l-4 2.6-6 6.2-8 3.7-6 6-10 5.4-1.9 2.1-.9 2-1.9 8-.9 12 .4 6 1.7 8 0 11.9 2 10 0 6-1.6 6-4.9 6.9-1.3 3.1-.7 16-1.4 10-.7 2-3.9 6-.6 4 .6 2.5 2 1.8 4 .7 6-.8 2 .4 10 11 5.8 8.4 6.2 6.1 8 5.6 4 3.7 7.1 4.5 6.6 8 2.9 2 3.4 3.5 6.1 2.5 1.8 1.7 .1 2.3-2.1 1.6-2.2 .4-1.8 2 2.8 4 3.2 2.2 4 1 3.1-1.2 1.4-2 .1-4-2.3-6 .2-2 5.5-8.5 2.5-5.5 .9-4 .7-55.9-.3-8-1.2-10-5.8-24-.6-14-3.3-11.9-4.5-8-.9-4 .8-6 4.2-8 .3-6-1.2-6-2.4-8-1.2-2.7-2-2.6-13.9-10-4-1.4z"/><path fill="#38b99e" d="M0 0l317.5 0-.1 12 3.3 14 1.9 4 7.1 11 2.7 3 5.3 3.3 10 4 6 1.3 4 2.1 6 6.9 6 5.8 3.1 6.5 1 4 1.9 14 5.8 12 2.1 8 1.3 16-2.9 10 0 2 3.6 8.8 .9 5.2-.9 4.5-2 3-4 3.6-4.6 8.8-1.4 4 0 4 1.5 6 1.9 4 8.7 10 5.9 9.7 2 4.5 3.2 11.8 5.1 8 1.8 6 1.9 2.1 5.2 3.9 4.8 5.1 15.4 12.9 13.3 13.9 5.3 4.5 4.2 5.5 7.8 5.7 4 5.5 6 3.6 4 6.3 6 3.6 4.7 5.3 17.2 8.3 4 .9 16 .9 1.9 1.9-.9 10 1.1 8 13.9 40.7 0 117.1-1.9 10 1.4 14-1.6 4-1.9 1.5-4 .9-12-2.7-6 .5-12 2-10 .8-29.9-.5-40 .7-20-.8-35.9-2.6-34-.9-1.4-.9-.1-10-1.4-8-1.6-4-5.8-10-4.8-6-3.8-6-5.6-5.9-16.4-20-21.5-28-10.8-18-7.9-8-6.8-5.5-6-3.1-16-4.6-12-4.8-6-4.8-9.6-11.1-4.4-2.4-4-.3-5.1 .7-20.8 8.1-6 1.3-8 .7-8-.7-4-1.1-14-6.7-4-1.3-12-.4-10 2.2-8-1.4-8-.4-12.1-6.3-9.9-6.5-3.7-3.5-3-6-.3-10-1.4-6-9.5-13.8-2-1.8-6-3.6-4-1.5-26-2.8zM409.4 2l4.2-.7 1.4-1.3 33.1 0 .6 4 2.9 5.8-.2 2.2-1.8 2.9-6 4-6 5.4-6 3-4 .3-3.1-1.6-6-6-8.9-2.8-3.3-3.2-1.3-4 .6-4 2-3.3zM539.1 279.7l.4-.6 0 44.5-4 2.6-4 1.2-2 .1-.8-1.8 .5-2 5.4-14 .3-4-.3-14 .6-4 1.5-4zM5 421.6l7-1.6 4 0 3.4 1.6 1 2 0 2-.7 2-5.1 6-.7 2-.4 6-1.8 4-3.7 2.7-8 3.1 0-28.8zM50.7 515.5l7.2-.6 10 .9 6 1.6 12 4.6 6 2.8 8 4.7 13.5 10-84.8 0 1.6-10 3.4-6 4.4-3.9 3.4-2.1z"/><path fill="#4dbc92" d="M128.8 36l5.1-1.3 8-.7 14 1.3 15.9-.2 14 5.5 18 2.4 18 6.7 14 1.6 4 1.7 6 3.8 4 1.6 16 1.9 9.9 4.2 10 5.8 8 3 6 1.2 10-.5 4 .7 2.2 1.2 3.8 3.9 2.7 4.1 2 6 1.4 20-.2 12 3.5 12 3.5 18 2.9 8 2.1 7.9 3.7 10 6.4 12 12 14.5 9.4 9.5 18.5 14 10 10.8 2.8 7.2 1.2 1.6 5.5 4.4 4.5 6 9.9 10 20.1 17.9 5.3 4 4.7 5.4 6 3.6 4 5.4 6.3 3.6 1.7 1.9 2.2 4.1 1.8 1.7 4.1 2.3 5.9 7.3 6 4.7 20.6 26 8.7 14 8.2 19.9 3.9 14 4.2 24 1.4 18 .9 34-.8 15.9-1.7 8-1.6 4-5 10-2.9 3.3-10 7.4-6 2.7-10 2.8-13.9 1.1-24-.9-38-.5-18-1.5-14-2-13.9-3.1-14-4.2-10-4.3-10-5.9-10-7.9-10-10.2-4.4-6.8-5.4-5.9-8.2-11.6-6.3-10.4-9.5-18-7.9-18-8.3-14-10-12-7.9-7.4-6-3.8-18-7.8-16-8.6-24-16-10-8.7-12-8.5-9.1-5.1-8.8-3.8-4-1-20-2.1-4-.9-8-3.9-12-2.3-6-2.9-8-2.5-3.9-2.6-5.2-10-5.3-8-2.8-6-2.1-6-3.7-13.9-5.9-14-3.4-12-6.4-12-1.5-4-.4-4 .9-6-.6-4-8.1-12-3-8-.6-6 .4-18-2.5-13.9 .3-14-1.5-14 1.5-12-.1-12 1.3-4 2.3-4 12.4-10.4 2.6-3.6 4-8 8.3-10 2.3-2 4.7-2.7 8-5.7 20-7.8 6-1.5 12-1.6z"/><path fill="#71bf80" d="M134.9 69.9l5-1.2 4 .1 14 1.9 7.9 2.1 10 .4 4 .7 4 1.9 10 7.7 6 2.6 14 2 8 2.2 24 4.4 10 2.5 23.3 10.7 14.6 5.6 8 5.7 10 9.8 5.3 6.9 2 4 2.4 12 1.8 15.9 5.1 14 10.2 18 11.2 17.3 10 10.3 19.9 16.2 4 2.5 6.5 7.7 5.5 4 4 4 12.4 9.9 9.6 6.9 12.7 11.1 19.3 19.2 16.4 14.8 23.1 24 9.4 12 7 10.7 8.7 19.2 8.3 24 4 16 1.8 14 1.4 32-.8 17.9-1.2 6-2.2 6-4.5 8-3.5 4-12 9-12 3.8-13.9 1.1-14-.4-8-.9-6 .4-8-1.2-8 .5-6-1.4-8 .3-8-1.7-6-.2-14-2.7-15.4-4.6-9.2-4-7.3-4-8.9-6-14.2-12-8.9-8.8-8.5-11.1-6-10-18.3-34-5.2-12.3-4.8-9.7-7.2-10.6-12-13.4-5.9-5-8-5.3-52-30.6-6-4.4-14-12.3-14-10-11.9-6.4-14.2-5.9-6.7-4-13.1-9.2-11.7-12.8-18.3-28.8-7.8-17.1-.5-4 .9-12-.7-4-11.9-22.3-5.4-17.7-.4-4 1.1-11.9-1.2-16 1.9-12 3.2-10 1.8-12 1.4-4 1.6-2.3 10-10.3 14-8.5 4-1.8 18-5.4z"/><path fill="#92bf73" d="M167.3 113.9l8.5-.6 10 1.9 10 .7 15.1 2 12.9 3.9 14 2.4 10 3.3 11.2 2.4 12.7 4 7.9 4 4.3 4 4.1 6 3.1 12 4.2 7.9 3.1 8 8.4 14 11.4 14 17.5 16.4 14 17.8 11.5 9.8 8.2 8 25.4 17.9 9.3 8 9.5 6.8 6 6.1 8.4 7.1 22.1 22 7.5 6.6 6.2 7.4 7.8 6.9 14 14.9 17.9 23 10 14.9 6 12.2 6.8 20 .7 8 1.9 8-.3 6 1.4 8-.6 6 1 8-.7 15.9-1.4 8-2.1 6-4.5 8-3.7 4-10.5 7.4-12 3.8-11.9 1.1-12-.1-10-.8-6 .3-8-1.2-6 .2-8-1.8-6-.2-8-2.9-8-1.5-6-2.9-9.6-3.4-8.4-4.9-6.6-3.1-11.3-8.5-10-9.8-6-7.5-10.9-16.1-7.1-12-3.6-10-2.1-4-14.3-21.3-7.6-12.7-12.2-27.9-2.8-4-5.4-6-12.4-10-11.3-10-5.4-6-2.4-2-14.4-7-14-9.2-24-11.8-20.2-14-15.8-11.7-7-6.3-12.6-7.9-10.6-10-5.7-7.2-2.9-4.8-5.9-16-1.1-14-8-36-.7-18 .6-3.9 2.3-8 .2-14 .5-4 3.1-6 6.3-8 3.6-2.5 4-.7 12 .7z"/><path fill="#aebe67" d="M182.3 151.9l5.5-1.6 4-.4 6 1.2 8 2.8 12 6 2.5 1.9 3.3 4 2.7 2 7.5 2.7 8 4.3 8 2.9 2.8 2.1 9.7 12 5.5 5.8 9.9 15.1 1.5 3.1 1.4 10 5.7 8 3.2 8 2.2 3.1 2 1.8 4 2 2 .2 6-1.7 2 .4 8 3.5 2.9 2.7 .4 2-1.3 2.2-6 .2-2 .7-1.4 .9-1.4 2 .4 2 2.3 2 3.7 2 1.5 2 .7 7.9 1.6 4 2.6 1.5 8 1.3 1.1 1.2 .2 10 .7 2.8 2 2.5 6 1.8 2 1.7 2.2 3.2 2.7 2 17.1 8.6 6 2.3 10 2.1 5.9 2.5 20.9 14.5 26.3 14 10.8 5 30 19.4 21.9 15.1 12 10.5 8 10 4 6 5.2 11.9 .5 2 .2 6 2.4 8-.5 4 1.5 8-.5 6 .9 10-1.2 13.9-2.9 12-4.5 8-2.9 4-10.2 6-6 2.2-6 1.4-19.9 1.4-28-.8-8-1.7-6-.5-16-5.2-8-5.5-4-1.5-2.6-1.8-3.9-6-5.1-4-1.4-2-2.6-6-3.4-3.9-4.4-8-4.7-6-4.9-8-4.9-10.6-11-19.4-9.1-22-3-10-2.9-6-5.7-8-5.5-9.9-8.8-12.7-12-14.8-8.5-16.5-4.7-14-.2-4 .7-6 .7-3.3 2-4.6 2-1.1 4-1.2 2-1.6 3-4.2 1-4-.5-2-1.5-1.8-4-2.2-2-.2-2 .4-2 1.4-1.5 2.4-2.5 6.7-2 .4-6-.1-8 .6-6-2.3-7.9 .3-10-2.1-12 .8-4-1.1-11.2-7.2-6.8-9.5-8-6.4-10-5.1-4-2.9-3.1-4-4.9-10-4-3.6-12-7.6-4-3.2-2.9-3.6-4.2-8-4.8-5-2-3-4.6-12-.8-4 1.6-14-.2-8 2-3.2 6-4.1 9.9-8.5 6-3.6z"/><path fill="#c8bc5d" d="M370.2 355.7l9.4-.6 12 1.6 12 4.7 22 6.9 7.4 3.4 6.7 4 7.9 3.4 23 12.5 16.9 7 4 2.4 8.3 6.6 5.7 7.9 3.8 4.1 4 8 3.8 6 1.1 6 2.8 8 .4 6 1.5 8 .6 14-1.9 15.9-3.3 10-3.5 6-3.3 4-10 5.6-12 2.7-13.9 1.1-14 0-14-.7-16-2.5-8-3.2-4.2-1-1.8-.7-6-4.8-6-2.5-3.7-6-4.6-4-1.4-2-2.2-6-3.8-5.9-2.4-6-3.9-7.3-10.6-28.7-5.3-11.7-4.6-14.3-5.8-26 .1-8 2.2-11.9 1.4-4 2.7-3.9 2-1.8z"/><path fill="#e1b952" d="M398.4 391.6l5.2-.7 14-.3 4 .6 14 4 20 1.7 14 2.4 14 3.2 11.9 7.7 9.1 11.4 6.6 12 4.8 16 2.2 14 .8 12-1.5 12.4-3.2 9.5-3.5 6-3.3 3.8-8 5.3-10 3-13.9 1.4-12-.1-12-.9-13-2.5-7-2.1-7.7-3.9-5.4-4-4.3-4-6.9-8-7.5-13.9-4.6-12-1.9-8-.6-8 0-18-3.5-14-.8-8 .6-4 2.6-8.3 3-3.7z"/><path fill="#f1b94a" d="M450.8 409.6l8.8-.5 16 .7 4 .7 7.9 2.8 4 2.1 4 3.5 6 7.3 4 6.8 4 10.4 2.9 12.2 1.3 14-.2 8.2-2.5 11.7-3.5 7.9-5.6 6.1-6.4 4.4-8 2.7-7.9 1.6-6 .5-14-1-8-1.4-6-1.6-11.1-5.2-7.8-6-3.8-4-4.5-6-5.6-9.9-3.2-10-.9-10 1.4-20 1.5-5.8 2-4.1 4-5.5 6-4.3 16-6.7z"/><path fill="#ffc337" d="M459.1 421.6l6.5-.7 10 1 10 2.8 5.1 2.9 4.8 4.3 3.9 5.7 4.1 8.9 2.7 9.1 1.2 8 .5 10-1.5 8-2.9 7.9-6.8 8-4.9 4-6.2 3.1-8 2.4-6 .5-14-2.1-8-2.7-8-4.4-8-6.1-4.3-4.7-3.8-5.9-3.9-10.4-.6-5.6 1.6-10 2.6-8 4.4-6.9 6-6.9 7.7-6.2 8.3-3.9z"/><path fill="#fad32a" d="M460 435.6l7.6-1.7 6 .2 6 1.6 6 3.4 4.5 4.5 5.4 7.9 2 4.1 2.8 8 1.1 6 .1 4-1.2 6-2.5 6-3.3 3.9-5 4.5-4.8 3.5-5.1 2.4-6 1-6-.2-6-1-6-2.2-6.6-4-7.7-6-3.6-3.9-2.7-6-1.2-6-.1-6 1.4-6 2.5-5.2 4-5.4 6-6 6-4.1z"/><path fill="#f5e41d" d="M468.1 447.6l3.5-.6 4 .3 4 1.6 4 2.8 3.8 3.9 2.1 3 4.1 9 .4 6-1.1 4-1.4 2.7-3.8 5.3-3.9 3.9-2.7 2-3.5 1.7-4 .4-4-.3-6-1.5-4-2-3.2-2.3-4-3.9-2.8-4-1.7-4-.4-4 .8-4 1.7-4 3.7-6 5.9-5.8 4-2.4z"/><path fill="#f9fb0e" d="M467.7 463.6l3.9-1.4 4 .1 4 1.8 2.9 3.5 1.3 4-.7 4-2.5 4-3 2.6-4 1.3-4-.7-4-2.8-2-2.4-1.3-4 .4-4 2.4-4z"/></g>
</g>
<rect x="1.5" y="1.5" width="537.0" height="536.5" fill="none" stroke="#000" stroke-width="3.0"/>
</g>
<g transform="translate(2352,114.3)">
<g transform="scale(0.99963,1.00000)">
<g fill-rule="evenodd"><rect width="543.2" height="543.2" fill="#1481d6"/><path fill="#0c93d2" d="M0 0l543.2 0 0 543.2-543.2 0zM228.5 308l-6 5.2-6 3.3-1.3 2.2-.4 4 1 4 1.4 2 3.3 1.8 8 .8 8-1.4 5-3.2 2.9-4 .4-2-.6-2-7.7-8-4-2.9-2-.4z"/><path fill="#06a0cd" d="M0 0l543.2 0 0 543.2-543.2 0zM206.5 269.8l-4.1 4.3-2 .8-12 1-8-1.1-2 .2-2 1.2-2.7 4.4-1.1 12-2.2 3.3-2 1.1-2 .1-2-.9-6.1-5.8-2-1.1-8-.9-14 1-4 .9-4.6 2.3-4 4.1-.8 2 0 2 .8 2 11.8 18 6.6 16-.5 4.1-5.3 12.2-1.1 7.8 .3 4 1.9 4 2.9 3.4 4 3.9 6.4 4.7 1.6 3.1 1.1 7 3.2 6 3.7 3.7 4.1 2.1 10 2.5 6 .5 4-.8 8-4.3 2-.2 10.2 4.5 5.9 1.6 6 .6 10-1.1 10 2.7 6-.1 4-1.7 4-2.8 2.9-3.2 2.1-4 1.7-6 .8-6-.9-14.1-1.6-10 1.1-2.6 5.6-5.4 4.4-6.2 8.3-5.8 1.7-2.1 .6-2-.7-8 2.9-8 .2-4-.7-2-2-2-6.3-2.2-3-1.8-5-8.4-3.1-1.6-15-5.8-2-1.4-2-2.8-2.9-6.1-4.2-4-4.9-2.4-10.9-3.6-5.1-2.7-2-.6zM184 322.7l2.4-.5 4 2.2 8 7.3 4.8 7 3.3 3.2 6 3.2 10 3 1.2 .7 1.2 2-.6 4-2.9 4-4.2 4-10.7 7.9-2 .7-4.1-.2-8-3.6-4-3.4-1.9-3.4-1.5-8-.4-16.1-2.9-8-.1-2 .6-2z"/><path fill="#07a9c2" d="M0 0l543 0 .2 543.2-543.2 0zM320.7 148l-12 7.5-10 8.6-12.1 4.2-10 1.3-4 1.2-2.1 1.6-4.2 6-3.7 2.7-2 .5-6-.6-2 .3-2 1.7-3.7 5.4-8.4 6.3-1.1 1.7-.4 2 1.8 10.1-.3 4-2 3.1-6.8 4.9 .8 2.1 8 3.7 2 1.5 3.4 4.7 .4 4-1.5 4-4.3 5.9-2 1.5-2 .3-8-2.5-10 .9-2-.3-2.2-1.8-1.8-10-2-4.7-2-1.2-2-.1-4.1 1-4 1.7-6 4.3-2 .9-6 1.3-2 1-10 7.8-2 1-16.1 2.8-1 2.3-.6 6-.7 2-1.7 1.8-2 1-8 2-8 4.2-8 2.1-4 2-4 3.3-4.9 5.6-9.6 14.1-1 2-.8 4 1.3 8 2.9 6.3 5.8 5.7 1.4 2 4.4 14-.1 2.1-1 2-4.4 6-1 6 .6 4 3.5 10 1 10 2.9 8.1 2 2 5 2.9 3.8 3.1 4.2 7.3 2 1 6 .8 4 2.5 8 10.1 6 5.9 4.1 1.7 2-.3 5.7-3 4.3-.6 14 1.2 10 2.8 14.1-1 6 .6 4 1.2 3.8 1.8 12.2 12.6 4 2.5 2 0 2-1.1 7-5.9 2.2-2 1.3-2-2.4-5.2-.6-2.9 1.1-6 2.8-6 5.7-8 3-8.3 2.8-5.7 6.5-10.1 1.6-4 1.7-8 1.4-2.6 2-1.2 6-.3 4-1.4 2-1.7 2.9-4.8 3.2-3.3 10-4.6 6-4.6 4-1.5 4 .3 10 2.6 4 2.5 4.1 4.8 2 1.3 2 .4 2-.3 3.3-1.6 2.3-2 1.3-2 1-4-.3-10.1 1.1-8-.1-4-.8-2-5.8-5.5-5-6.5-13.1-12.9-10-2.9-8.9-6.3-4.2-4-4.9-6.7-4-2.6-6.1-1.1-8 .2-8-1-8 .1-2-.9-.8-2 0-2 4.1-8 .8-2 0-2-2.1-2-10-5.2-2.2-2.9-.4-2 .3-4 1.4-4 2.9-3.3 2-1.3 2-.4 6 2.1 2 .2 8-.3 8 2.6 4 .1 4.1-1.5 6-4.9 8-2.1 2.7-1.2 1.3-1.5 .7-4.5-1.1-6-1.6-2.8-5.6-5.3-1.3-2 0-4 2.9-8 2.7-4 3.3-2.1 4-.6 8 1.1 4-.7 2-1.5 1.6-2.2 1.1-4-.8-16.1-1.1-4-2.8-3.1-4-3-2-.7zM348.8 211.9l-2 .6-1.8 2-.3 2 1.5 6 1.7 4 2.9 3.5 2 1.3 4 .9 2-.4 2-1.3 1.9-4 .3-4-.7-2-3.5-4-4-3.2-2-.9zM374.8 127.8l-6 2.3-2 1.5-2 2.5-1.1 4.2 .7 6 2.4 2.4 6 .4 2.4 1.2 2 2 1 2 1.5 6 2.3 2.1 6.9 2.5 1.1 1.5 .2 2-2.4 12-1.8 2-7.2 2.7-3.4 3.3-5.4 12-3.9 6.1-1.1 4 .4 2 2.8 6 2.6 3 14.1 7.4 4 .9 4-1.3 2-1.4 4.1-4.6 3.8-6 5.2-12.1 5.4-8 1-4 .1-8 2.9-8-.1-4-2.4-4.4-6.9-5.6-2.6-4.1-.3-4 1-2 2.8-3 1.3-3-.1-4-1.2-3.1-.9-.9-1.1-.9-2 .3-.6 .6-1.4 1.7-1 2.3-1.3 6-1 2-2.7 .5-4-1.3-4-2.5-2-2.3-3-6.4-3.1-5.2-2-2.2-2-.9zM455 121.9l-2 .6-2 1.4-2 3.7-.4 4.7 .6 2 1.8 1.4 2 0 3-1.4 3-2.6 2.3-3.4 .4-2-.7-2.4-2-1.6zM266.7 210.5l3.9-.6 1.5 .6 .5 2-4 4.2-2 .9-1.8-1.1-.4-2 .6-2z"/><path fill="#15b1b4" d="M0 0l477.2 0 13.9 .6 5.8-.6 8 0 4.2 1.5 2 0 4.8-1.5 24.3 0 3 5.7 0 537.5-543.2 0zM22 107.6l-4 3.2-2 3-.9 2.5-.6 6 1.1 4 2.4 2.3 4.3 1.7 4.2 4 2.2 4 1.4 4.6 2 3 2 1.4 2 .5 2-.7 1.7-2.8-.1-2-1.7-6-.5-8-1.4-5.3-3.8-8.7-2.2-3.1-4-3.5-2-.6zM94.2 119.9l-1.8 2.4-.3 2 .7 2 1.4 1.8 2 1.2 4-.2 7.7-2.8 .4-2-1.2-2-3.2-2-5.7-1.4-2 .1zM264.6 121.3l-2 1.8-.2 3.2 3.1 6 1.1 1.4 2 .2 2.1-1.6 1.1-2 .2-2-.7-2-2.7-3.4-2-1.4zM416.9 61.6l-4.4 2.5-7.6 7.1-4 2.8-16 5.3-8.1 1.9-12 6.2-6.9 6.8-9.1 6.5-6 8.8-4.1 3.7-2 .9-6 .7-2 .8-26 20.3-4 1.8-8.1 1.5-2.9 1.1-1.2 2 0 4-.6 2-1.3 1.3-2 .5-2-.6-14-7.6-2-.6-2 .2-8.7 2.8-3.2 2-1.4 8-3.5 4-3.3 2.1-4 1-8-.4-4-.8-8-3.4-2 .6-2 2.7-.6 2.3-.3 12-2 4-2.2 2-11 7.2-12 18.2-4 2.1-6 1.2-4 1.6-2.2 1.8-3.8 4.7-4 2.8-4.1 .8-2-.2-2-1.1-1.7-3-.3-8-1.3-4-2.2-2.1-2.5-.8-4 .7-10 9.3-14 7.2-2.6 1.7-1.8 2-.9 2-.5 4 2.1 24.1-.4 6-1.2 2-2.8 2-12 3.4-5.4 2.6-6.6 8.5-5.9 3.5-1.3 2-.5 2 .2 6-.3 2-1.3 2.1-2.9 1.5-8.1 2.2-4 2-5.7 6.3-2.3 .8-12 .7-8 3-4-.5-6-2.6-2.1 .1-2 1.5-1.8 5 .2 4 .7 2 2.9 3.9 4.7 4.1 2.3 4 1.2 4 1.8 2 2.1 .4 2-.3 2-1 3.5-5.1 2.5-2.4 2-.8 2 .2 1.3 1 .8 2-.5 2-1.6 2-5.5 4.1-.4 4 1.9 4.4 12.5 17.6 .8 4-.4 6 .5 2 6.4 8.1 2.3 6 1.4 10-1.5 3.3-4.6 4.7-.7 2 .1 8-1 2-1.8 1.2-6 2.2-1.2 2.6 .7 4.1 3.3 10 .1 8 1.1 2.2 2 .5 6-.9 2 .7 1.8 1.5 .7 2-.4 2-2.6 4 1 2 3.3 2 8.3 2.8 2.1 1.2 1.9 2.4 1.8 7.7 1 2 3.2 3.5 2 1.1 2 .2 2-1.6 4-9.1 2-3.1 .3 .9 5.6 6.1 1.1 2 .4 2-1.4 2.7-2 1.6-3.6 1.7-2.3 2 .6 2 3.7 2 7.6 2 6.1 2.6 2 .2 4-2.8 5.6-6 1-2 .2-2-1-2-3.8-4.6-1.2-3.4 1.2-5.2 3.5-4.9 4.5-2.3 2-.1 2 .8 1.6 1.6 1 2 .3 6.1 1.1 2.8 2-.6 3-6.3 2.2-2 2.8-1.7 4-.3 10.1 2 3 2 1.6 2 1 4.1-1.6 4.7-.3 3.3 3.4 12 2.9 3.9 7.1 4.1 10.9 3.1 12.1 9.5 4 2.5 4 1.1 4-.3 4-1.6 4-3 4-1.9 10 .1 4.9-1.5 4.7-4 2.6-4 1.7-6-.1-10 1.8-4 4.3-6 2.2-7.2 2-1.2 4-.4 2-.8 2-2.3 4.5-10.2 2-2 7.5-4.2 8-6.3 3.1-3.5 1.8-4 1.5-8 1.6-20.1-.4-2-1.5-2.3-2-.6-6.1 .1-2-1.4-2-5.8 .7-4 1.2-2 4.8-4 6.9-4 4.5-1.2 10-1.4 3.3-1.5 1.6-2 .7-2 .7-6 1.7-2.3 2-.5 6 .6 4-.3 14.1-5.8 6-5.1 10-12.2 2-1.6 13.5-6.9 4.3-4 6.1-14 7.8-10 2.8-8 .1-4-.6-2-1.9-2.5-5.2-3.6-1.3-2-.3-2 1-4 3.6-8 .2-4-1.1-6 .1-4 4.3-10.1 1.1-2 6.9-8 5.4-10 3.5-8 5.4-8 2.4-2 9.7-4 3.2-2 9.2-6.7 3.2-3.4 6.9-12 .9-4-.3-6-3.8-6-.7-2 .1-2 1.7-2.5 8-4.6 4-3 8-8 3.7-6 3.1-10-.3-4-2.4-8.1-6.1-12.3-2.7-3.7-7.3-4.5-3.6-3.5-1.2-10-3-6-2.9-4-2.5-2-2.8-1.2-16-4.4-8.1-3.3-2-.4zM38.1 154.7l-2 1.9-1.1 3.8 1.2 10 .8 2 2.6 2 2.5 .4 2-.3 2.1-2.1 3.5-8 .4-2-.9-2-3.1-2.7-4-2.3zM44.1 412.9l-4 2.3-5.6 5.7-1.1 2 0 2 2.1 2 2.6 .7 2-.5 2.8-2.2 1.4-2 2-8-.2-1.2zM63.1 312.7l1-.4 2 1.5 .6 .9-.6 1.1-2-.3-.8-.8zM88 441l4.2-1.2 4 .7 6 2.8 2.3 1.7 1.6 2 .4 2-.5 2-1.6 2-6 4-1.4 2-.6 4 2.1 6 .4 2-.7 2-.9-2-7.1-9.3-2.2-4.7-2.4-12 .5-2z"/><path fill="#38b99e" d="M84 0l17.7 0 1.2 6-.5 2-2.2 2.7-4 1.8-2 .1-8-2.5-2.8-2.1-.9-2 .1-2zM115 2l10.1-2 15.5 0 3.7 1.8 4.5 4.2 1.8 4 .2 2-.6 2-1.9 2.7-1.5 5.3-2.5 .8-6-1.7-6 .4-12-3.7-6 1.2-2.1-1.2-.9-1.8-.9-8 .1-2 1.1-2zM216.4 2l4.1-.1 2 .6 2.1 1.5 1.2 2 2.7 9 2 2.5 4 1.8 8 1.7 4-.3 2-1 1.9-1.7 .7-2 0-8 1.4-2 2.1-1.3 6-1.9 16-1.3 8 .8 4 1.4 2 1.6 1.9 2.7 .3 2-.7 2-1.5 1.8-6 3.5-4 3.6-7.7 11.2 .4 4 3.6 8 2.1 8 1.9 10 0 4-.6 2.1-1.7 2.5-4 2.8-4 1.5-8 1.9-3.8 1.3-2.2 1.3-2 2.7-.4 4-1.4 4-6.3 8.1-12 7.9-10 8-10 3.3-2 1.8-1.5 3-1.5 8-3 6.3-3.9 3.7-6.2 2.5-1.9 1.5-.9 2-.2 4 .7 4 4.3 10.1 .1 4-.9 2-1.8 2-5.4 3.2-6 4.8-4 2.6-2 .6-4-.2-18.1-2.6-10-2.9-6-.4-8-3.9-4 .2-3.6 2.6-6.4 10.4-2 1.4-7 2.2-2.5 2-2.6 4.5-6 5.7-4.6 7.9-1.2 4 .3 2 3.5 6.4 2.1 7.6-.7 4-1.4 2-2 1.2-4 .1-8-3.6-2-.4-2 .3-6 2.9-2.5-.5-3.9-4-1.5-4 .7-4 3-4 .8-2-.6-2.4-2.1 .2-4 2.3-8 2-2 1-2 2.4-.2 2.5 3.3 6 1.1 4-.2 2-2 3-4 1.7-4 .1-6-.8-6-1.9-2.5-.1-1.5 .9-2.7 5.1-5.4 6.1-6 10.7-4 2.5-10 1.7 0-56.8 4-1 2-1.2 1.3-2 .1-2-1-4.1-2.3-4-2.1-1.3-2-.5 0-23.7 3 1.5 3 2.7 6 10.8 2.3 2.5 9.8 6 5.8 6 5.4 4.1 4.8 5.8 2 1.7 2 .7 4-.3 2.9-1.9 1.3-2 .5-2-2.7-8.1 .3-2 1.7-2 2-.2 2 .6 6 3.8 2 .1 2-1.2 9-9.1 7.5-14 8.7-8 4.9-6.7 16-7.1 2.1 .3 5.3 3.4 2.7 1 4 .1 2.3-1.1 1.6-2 .7-2 1.7-10 1.7-4 2-2.3 4-2.9 11.1-2.8 .9-1.4 .5-4.6 3.5-8 .3-2-.5-4.1-2.3-4-3.5-2.4-10-4.8-2-.4-4 .5-18 7.7-10.1 .5-8-1.6-10-5.4-12-4.8-2-.2-3.2 .9-2.7 2-2.1 4-.1 4 3.3 10.1 .6 4-.2 2-1.6 3.7-2.1 1.3-2 0-10-5.3-2-1.9-1.6-3.8 .4-22.1-.5-10 1.2-4 2.5-4 6-5 4-1.8 2-.4 14.1 2.8 10 4.2 4-.7 8-3.7 4-3.8 10.1-15.7 4.3-16 7.7-1.9 6-2.3 2-.1 4 .8 6 2.2 4-.3 4 4.8 2 1.3 2 .5 4.1-.3 2 .4 3.3 2.9 1.9 8 4.3 12 .3 4.1-1.8 10 .3 2 1.7 2.4 4 1.8 4 .4 4-1 4-1.8 15.9-1.8 1.4-2-.1-2-3.7-8-.6-4.1 .6-4 2.6-5.2 2-2 6.9-4.8 .9-2 0-18-.6-2-4.4-8.1-2.3-8 .4-2 1.6-2 3.5-3.2zM374.2 2l2.1-2 56.1 0 4.8 2 5.8 .8 6-.4 10-2.3 4.3-.1 5.7 1.9 4 .7 20.1 0 8-1.8 8 1.9 4-.2 6.3-2.5 16.3 0 1.5 .6 1.4 1.4 4.1 8 .5 2.9 0 42.4-.7 4.8 .5 6 .2 42.1-2 11.4-7.3 24.7-.8 8 .7 6 7.4 4.9 2 2.7 0 72.2-1.4 8.4 .2 4.1 1.2 4.2 0 30.4-.8 5.4 .1 12.1-1.6 8-1.1 10-.6 2-2 2.6-2 .6-10-.5-6.1 1.8-5 3.5-8.2 8-14 8.1-8.8 9.7-2 1.3-4-.9-4.1 .2-3.5 1.7-.5 2 1.8 2 2.2 .4 2.9-.4 3.2-1.5 2-.4 2 1 6 7.3 16 7.8 3.5 3.8 5.2 8.1 13.5 10 4.5 4 4.4 6 7 12 0 21.8-4 1.3-10 .3-10 2.7-14.1 2.8-4 2.1-6 5.8-2.1 1.3-3.9 1.4-6 .1-8.1-1.8-3.1 .3-4.9 1.7-10-.3-6-1.5-3.5-1.9-2.1-2-1.3-2-.6-4 1.8-8-.3-8 1.8-10.1-.2-4-2.2-6-5.4-8.6-2.7-3.4-3.3-2.6-4.1-1.4-8 .8-8-.4-20 8.2-8 4.3-4.1 1-2-.6-2-1.6-6-6.6-5.4-3.1-2.5-2-9.6-12-.9-2.1-.2-2 1.1-4 4.7-8 4.8-12.6 2.9-3.4 5.1-2.8 4-1 4 .3 4 1 8.1 3.5 4 1 4-.1 10-1.8 10-.1 2.4 2 .6 6 .7 2 2.3 .6 2-1.1 3.5-5.5 2.6-2.6 4-1.6 8-1.1 2-.8 1.6-1.9 .3-2-1.3-4-1.4-2-5.2-4.8-2.3-3.3-2-6-.3-4 .6-1.1 2-1 8 2.8 6 0 4.8-2.7 1.3-2 .6-2 0-2-1.3-4-4.3-6-.4-2 2.6-6-.4-4.1-2.8-4-4.4-4-.8-2 .5-2 1.3-2 3.6-4 3.7-2.4 8.1-1.6 1.9-2 .7-2-.3-4-1.1-2-8.5-8-.9-2 .2-4.1 1.9-3.7 5.4-6.3 2.8-6 2.2-2 5.6-1.7 10.1 1.2 1.3-1.5-1.1-6-4.4-10 0-4 1.1-4.1 3.1-5.2 8.6-6.8 5.4-8.6 8-9.1 4-2.8 1.3-1.5 1.2-2 1.1-4-.9-4.1-1.9-2-8.8-3.3-2-1.4-3.4-5.3-2.4-8-2.9-14-6.3-14.1-3.7-6-2.3-10-7.8-14-.2-4 1.5-4-.3-2-1.4-2-7.2-4.1-7.7-3.1-6-1.1-14-.4-3.3-1.4-6.8-4.8-4-1.8-24-6.1-4-1.6-2.3-1.7-5.7-6.4-10.1-6.3-3.5-5.3-2.3-6.1-.8-6 1.3-6zM489.1 231.6l-.7 .9-.1 2 .1 10-4.5 10.1 0 2 1.2 1.9 2 .9 3.9-.8 2.8-2 3-4 .8-4.1-.1-4-1.1-4-3.3-5.2zM193.8 4l2.6-1.2 4 .5 3.5 2.7 1.1 2 0 2-1.9 4-1 4-1.7 2.2-2 .7-2-.5-2-1.6-1.6-2.8-1.4-4-.1-4 .7-2zM28.3 6l3.8-1.6 2 0 6 1.4 2.7 2.2 .7 2-.3 2-2.2 2-4.9 1.7-6-.9-4.4-2.8-1.6-2 .4-2zM51.1 16l3-.6 2 .3 6 1.8 10.1-1.2 6 .8 6 1.4 8 3.6 4 1.1 2-.2 6-2 2-.1 4 .7 2 .9 3.3 3.6 2.6 4 1.2 4-1 .9-2 .2-4.1-.1-8-1.3-2 .5-4 1.5-4 2.2-6 5.6-4 2.4-4 .8-2-.4-6-3.8-11.4-12.5-6.7-2.8-2-1.5-1.5-1.7-1.5-4.1 .2-2zM156.3 16l2-.6 4.1 .5 2 1.1 2 2 1.7 3 .8 4.1-.2 2-1.3 4-3 3.7-2 .5-2-.6-4.1-2.1-4-.3-.6-1.2-.2-2 1.4-4 .6-6.1 .8-2zM0 32.1l0-1.5 6 0 4 1.1 4 2.7 4 4.4 2 3.3 1.3 4 1.1 6-.6 4-2.4 4-9.2 8.1-7.2 8-3 2.2zM296.5 108.2l2.2-.1 2 .6 4 2.9 1.6 2.7 .1 2-1.3 2-2.4 1.1-2-.1-2-1-2-2-2-4.1-.1-2zM426.8 238.5l2.1 1.3 0 2.8-2 .1-1.2-2.2zM12.9 360.8l3.1-1.2 4-.4 4.1 1.1 4 3.2 2.2 3.3 1.4 4 .8 10-.4 2.7-2 2.6-2 .9-10.1 .7-4 1.2-8 3.5-6 .1 0-23.2 4-1.6 5.8-4.9zM340.6 422.9l2.2 0 4 1 10 6.4 4 .4 6-1.1 2 .2 2.2 1.2 1 2 0 2-1.2 2.5-10 11-2 .8-8 1.3-2 .9-1.1 1.5-.5 6 1.2 18.1-.8 4-1.4 2-11.5 6.2-8.4 1.8-1.7 2-2.2 8-1.7 2.1-2 .5-2-1-1-1.6-1-2.7 0-3.8 1.5-3.5 3.2-4 3.6-8 3.6-6.1 .8-4-2-4-4.7-5-1.8-3-1.1-4 .1-4 .8-2.7 2-2.8 2-1.4 2-.5 2 .2 2 1 2.7 2.2 3.3 1.7 4 .5 2.1-.6 1-1.6-.5-2-2.3-2-4.3-2.4-1.4-1.6-.6-2 .8-4 2.3-4.1 2.9-3.2zM352.1 487.1l.7-.8 2-.6 9.9 1.4 3.5 6 2.6 2.5 2 1 2 0 6-4.4 2 .4 1.4 2.5-1 4-5.6 8-2.8 1.8-4 1.4-2 1.3-2 2-4 6.6-2 1.6-2 .7-4-.2-1.6-1.1-1.5-4.1 .5-4 3.6-6 .7-4-4.2-12zM156.7 511.1l3.7-1.1 4 .7 6 2.5 8 4.7 10 3.3 1.7 2 .6 2-.1 2-2.6 8-1.3 8-93.6 0 1.2-2 3.9-2.7 14-2.9 8.1 .4 8-.7 8 1.8 2-.2 .7-1.7 .4-8 2.1-4 8.8-6.3zM284.3 513.1l2.3-1.7 2 .1 8.1 5.4 4 1.3 6 .9 3.4 2.1 8.2 10 .3 4-1.8 8-27.9 0-.4-2-1.9-2.4-4-1.2-6-.3-2-1.4-.8-2.7 .6-2 7.6-10zM17.2 515.1l2.8-1.1 2 .7 8.1 7.4 6 1.4 4 1.7 1.7 2 .8 2-.5 8 .3 6-17 0 .7-6-.5-2-1.5-1.7-2.1-.2-6 1.5-2 1.7-1.5 2.7-.5 4-12 0 0-27.2 10 3.3 2-.2 2-1.1zM436.7 533.2l4.3-1 4.3 1 1.7 2.5-.2 7.5-13.3 0 .5-6 .7-2zM199.7 541.2l2.7 .4 2 1.6-7.3 0 1.3-1.5z"/><path fill="#59bd8c" d="M517.4 2l5.8-1.3 10 1.6 2 .9 4 3.9 1.8 2.9 1.1 8 1.1 3.3 0 11.2-1.1 13.6 .1 6-1.4 8 .7 6-.7 8.1 .8 8-1.2 14-.8 4-4.4 11.6-4 6.3-4 4-4 2.7-4.1 1.6-2 .1-4-.9-6-4.1-4-4.6-4.9-8.7-1.7-4-4.8-22-2.6-6-1.8-6-3.2-4.1-7-5.9-4.1-1.9-16-6.1-14-3.3-8-4.1-12-10.7-2.7-4-.9-4 1.3-4.1 1.5-2 8.8-5.8 22-6.3 8-2.9 10 .7 24.1-1.6 6-1.6 2-.1 6 1.4 2-.1 2-.1zM244.3 56.1l4.2-1.8 2.1 .2 2 1.2 1.1 2.4-1.3 8-.9 2.1-3 2.4-2 .2-2-.9-1.7-1.7-1.7-4.1 .2-4 1-2zM126.8 70.2l3.5-.6 2 .6 3.1 2 1.8 2 1.9 4-.3 2-1.8 2-2.7 1.1-4 .4-5.7-1.5-2.7-2-.7-2 .5-2 2.4-4zM161.5 132.3l.9-1.2 2-.7 2 .2 4 2.2 2 2.8 1 4.7-1.4 8 4.8 4 .9 2 .4 4-.4 4.1-1.3 1.3-2.1-3.3-1.9-1.5-2-.6-2 .9-3.3 3.2-4.7 3.3-2.1 .9-4 .2-4-1.9-5.1-4.5-1.7-4.1 .2-4 1.9-4 2.1-2 6.6-2.6 2-1.5 2-3zM389.2 376.8l3.7-.5 2 1.4 1.4 5.1-1.4 1.8-6 1.5-4-1.3-1-2 .4-2 1.6-2zM477.1 392.9l6-1.1 4 .7 2 1.2 10 9.6 2.4 3.6 2.2 6 .5 4-.3 4-3.2 8-3 4.1-2.3 2-3.2 2-3.1 1.1-10-1.2-12.1-.6-2.5-1.3-1.5-2.2-.4-1.8 .3-4.1 1.9-4 2.9-2 5.3-1.7 1.7-2.3 .2-2-.6-2-1.3-1.8-2-1.7-4-.3-6.1 1.8-2-2-.3-2 .5-2 3.2-4 4.7-3.8z"/><path fill="#7cbf7b" d="M502.8 4l10.3 .5 6-2 4.1-.4 10 2.5 4.4 3.4 1.7 2 1.5 8 1.9 6.1-2 22 .1 6-1.6 8 .8 6-1.2 8.1 .5 8-3.2 14-.9 2.4-2 2.9-4 4.2-4 2.6-4 1.3-6.1-.1-4-1.6-4-2.7-4-4-2-3.7-10.5-29.3-2.3-4.1-3.2-3.4-6-5-4.1-2.4-18-8.7-10-3.7-5.7-2.8-4.4-4-2.2-4 0-4 2.4-4.1 4.1-4 3.8-2.1 18-6.6 30.1-3.6z"/><path fill="#9cbf6f" d="M518.1 4l5.1-.6 4 1.6 4 .7 4 2.3 2.2 2 .9 2 1.2 6 2 6.1-2 20 0 8-1.9 8 .9 6-2 8.1 .3 6-.3 2-3.3 6.7-4 5.3-2 1.4-4 1.1-10.1-1.4-4-1.8-4-4.5-4-6.1-7.3-16.8-4.7-7.1-5.1-4.9-4.9-3.8-11.7-6.2-13.1-8-4-4-1.9-4 .5-4 3.2-4.1 4.9-3.3 10.2-4.7 7.8-1.2 8.1-2.3 8-.9 12-2.3 10 .1z"/><path fill="#c0bc60" d="M514 6l7.2-1.4 2 .2 10 3.4 3.3 3.8 3.6 12.1-2.1 20 0 8-2.3 8 .8 6-5.3 13.1-1.9 3-2.4 2-3.7 1.4-4.1 0-4-.7-4-1.9-4-3.3-4-5-7.2-12.6-4.8-6.4-4-4-6-4.9-15.4-10.7-3.4-4-1.3-4 .6-4 3.4-4.1 6-4 9.1-4 23-5.3z"/><path fill="#d9ba56" d="M520.7 6l2.5 .3 8 2.6 2 1.2 2.2 3.9 2.6 8 .5 4.1-2.1 18 .1 6-.4 2-2.7 6-1.3 8-.9 2.1-4 3.8-4 1.7-6.1 .7-6-1.9-4-3.1-16-18.9-7.2-6.4-9.8-10-2.6-4-.4-2 .5-2 2.6-4.1 7.1-6 3.8-1.9 10.8-4.1 9.2-2.4 8-.4z"/><path fill="#f1b94a" d="M513.7 8l7.5-.3 10 3.5 2 2.8 3.3 10.1-.8 14-2.5 12.7-4 6.4-2 2.1-6 3.2-4.1 .9-4-.3-4-1.6-4-2.7-6-5.1-12.9-13.6-3.2-6-.9-4 .4-4 2.1-4.1 9.6-8 3.4-2 7.5-2.8z"/><path fill="#ffc337" d="M512.2 10l2.9-.6 4 .1 10.1 4.1 2 2.4 2.1 6 .3 14.1-2.4 8.3-2 3.8-2 2.4-4 2.6-4.1 1.3-4 .2-4-.8-4-1.8-6-4-4.5-4-3.4-4-2.3-4-1-4 .4-4 .8-2 2.6-4.1 5-6 5.2-4 3.2-1.2z"/><path fill="#f7d826" d="M509 14l8.1-1.3 2 .3 5.8 3 2.3 1.9 2 3.5 1.3 8.7-.6 6-.8 2-3.9 4.6-4 2.8-2.1 .6-4-.1-6-2-8-5.6-2.7-4.3-.5-4 1.9-6 5.3-7.8z"/><path fill="#f5eb18" d="M510.7 20l4.4-1.1 4 .6 3.4 2.5 1.2 2.1 .9 4-.4 4-1.1 2-4 3.2-2 .6-4-.4-4-2.1-3.1-3.3-.7-2 .6-4 2.4-4.1z"/></g>
</g>
<rect x="1.5" y="1.5" width="540.0" height="540.2" fill="none" stroke="#000" stroke-width="3.0"/>
</g>
<g transform="translate(1795,671)">
<g transform="scale(1.00092,1.00000)">
<g fill-rule="evenodd"><rect width="543" height="543" fill="#06a0cd"/><path fill="#07a9c2" d="M0 0l543 0 0 543-543 0zM140.3 330.2l-1.4 2.4 2.1 8 .4 4-3.4 4 .3 2.5 2-.2 3.3-6.3 4.7-3.4 2 0 6 3.4 2-.1 3.5-1.9-1.7-2-2.8-2-4.4-2-2-2-.7-2-2.3-2-3.6-.9zM308.6 152.3l-5.5 4-4.6 2.1-2 1.9-.4 2 .9 6 5.3 8 0 2-1.7 2.4-4.1 1.4-4 2.5-4-.7-8-4-2-.2-1.8 .6-4.2 2.6-8 2.4-6-1.8-6 0-2-.9-4.5-4.3-7.6 .1-4-1.1-2 0-2.2 1-2 2-.8 2-2 10.1-4.1 6 .1 6-1.9 2-4.8 2-1.5 2-.3 2 1.3 8-.1 2-2 4-1.7 7-4-.5-2 1-2.2 4.5-.3 2 .5 2.1 2 .1 2-1.9 4-6.2 2-1 2 .4 2 .6 1.5 1.9 .3 4-.9 2-4.9 4.6-4 4.9-2 .2-4-4.4-2 0-2 2.4-3.2 6.4-.7 2 .1 4-1.6 2-2.6 1.3-2.1-.5-2-1.7-2-.7-2 .5-4 5.2-6 3-4 3.8-4 2.3-2.9 2.8-5.7 4-.8 4 .6 16.1-.8 2-7 4-1.8 2 0 2 1.6 2 2.8 1.9 2 .9 2 .1 4-1.2 2-2 1.5-7.7 .5-.4 4-.6 6 2.3 .6-1.3-3.3-2-3.3-6 2-1.6 10 .4 2-.4 4-1.5 4-3.1 .9 .1-.6 2-2.4 2-1.1 2.1-.8 4-1.5 2-6.7 4 .6 8-.6 8 .6 2 1.6 1.5 6 1.8 4-.1 6.1-2.9 4-3.6 6-1.2 4-2.1 2-.3 4 .5 10 .1 2 .5 2.4 1.8-.6 2-3 4-3.3 8-.3 2 2.1 6 .1 2-1.4 2.8-2 0-2-.9-8-6.2-4-.8-2.9 1.1-1.8 2-.2 2 3.6 10.1 .1 2-.8 1.6-2 .4-2-.8-4-3.1-2-.7-4 1-1.1 1.6 .6 8 6.1 4 .3 2-1.9 .8-3.5-.8-1.7-2-.9-2.1-2-.7-4 .1-4-1.6-8-1.5-8.4-6.2-3.6-7.1-2-.6-2 .6-10 6-2-.2-2-1.4-2 .1-1.9 4.6-4.6 4 0 2 8 12 1.1 4 2.1 4 9.3 7.1 12 5.5 8-.6 4 .3 2 1.4 5 6.4 3 .7 1.2-.7 2.2-4.1 1.7-2-1.5-2-6.3-4 2.2-2 2.5-.9 2.1-.1 4 1.2 2-.5 2.5-3.7 1.5-4.1 6-3.5 2.6-2.4 .4-2-2-4 .1-2 .9-.1 4.6 4.1 .1 8-.9 2-4.2 4-1.1 2-.4 2 .1 2 1 2 2.8 2.3 4-.7 6-2.6 8 .1 2-.8 6-8.3 7.8-2 4.3-3.7 2-.9 6 4.3 2 .1 6-3.8 6-.9 1.4-1.1 .6-1.2 .2-2.8-.8-4-2.1-2-.7-2 1.4-1.4 8-2.4 2 0 6 1.5 12-2.7 2.3-1 1.7-2 2.1-4.7 4.4-3.4 1.3-4 .4-6-1-4-2.2-4-.1-2 5.2-11.2 2-1.2 4-.1 10 3.1 6-1.9 4-.5 2-1.2 4-3.8 6.7-3.2 2.6-2 1.2-4 2.4-4-.8-1.3-.6-4.8-1-2-4.4-4 .3-2 5-4 .8-2-1-6-3.3-6 .8-6-.5-10 .7-2 3.2-2.2 3.9-3.8 1.1-2 .8-4.1 1.3-2 4.9-3.7 4.1-.3 1.9-.6 1.4-1.4 .9-2 .1-2-.6-4 .2-6-1.8-2-2.2-.5-8 .8-2-.3-1.5-2-1-4-2.6-4-.5-2 1.4-6-.7-2-1.1-2-3.9-4-1.4-4.1-2.8-2.9-4-1.9-4-3.2-2 .2-6 4.8-2 .7-4-.4-2.8-1.3-2.3-2-.3-2 2.3-4 .2-2-3-6 .2-4 1.7-3.1 2-.5 4 .1 .8-.5 1.4-2-.2-2-2-.8-4 2.4-2-.1-2-1.7-4-1.6-4-.8zM164.3 341.7l-1.8 .9 .3 2 1.5 3.6 2 .4 2-3.2 0-1.5-2-2.2zM330.9 190.4l1.7-.5 2 .4 5 2.1 .2 2-.8 2-2.4 3.8-2 1.4-2-.4-1.2-.8-1.6-2-.8-2 .3-4zM349.8 216.4l.8-1 .9 1-.9 .9zM187.6 276.5l.7-.8 2.1-.3 1.5 1.1 .9 2-.4 2.2-2 1.3-2.7-1.5-.8-2z"/><path fill="#15b1b4" d="M0 0l543 0 0 543-543 0zM318.6 61.8l-2 1.5-2 .6-6-.7-2 .6-4 3.3-2 .6-4.1-.2-2.1 .6-1.3 2 .7 2 3.1 2 1.1 2-1.6 6.1-1.9 2.1-12-1.1-6-2.7-9.1-2.4-8.9-5.2-2 .8-1.2 2.4-2.8 2.7-8 2.3-6.1 .9-6 4.3-2 0-4-1.5-4.5-4.7-1.5-.9-2 .1-7.8 6.9-6.2 3.8-.9 2.2 .8 6-.9 2-7 2.3-2 1.6-5.1 6.1-1.6 4-3.4 3.3-2 1.2-2-.1-2.2-2.4-.5-2-1.3-1.6-2 2-4.6 7.6-.3 6-.8 2-5.9 6.1-.8 2-.2 4-.9 4-3.5 6 2.8 8-.2 2-2.3 4-.4 2 .3 4 .8 2 2 1.3 7 .7 2.7 2 .7 2-3.4 12.1 .7 4 4 8 .5 6-2.2 1.3-4-1.1-2 .3-1.4 1.5-.2 2 1.8 4-.1 4-.8 2-3.6 4-3.7 6.2-4 2.9-4 .9-4-.2-2 .6-1.5 1.6 0 2 2.6 4.1 .3 2-1.6 4-4.4 6-1.4 6-1.1 2-4.5 4-2.5 3.6-2 1.7-6 2.6-2.8 2.1-7.2 6.6-6 7-2.2 4.4-1.8 8.5-3.6 5.6 .1 6-2.5 1.2-4-.6-2 .4-.6 1 .1 4 1.6 8 .9 1.9 2 1.4 2 .5 4-.3 .8 .5 .4 2-.3 6 5.2 6 .2 2-.7 10.1-1.6 4-1.4 2-.3 2 3.2 6 1 4 4.4 8 3.1 3.7 4 1.9 2 3.1 7.3 15.4 2.7 2.3 4 1.4 4.1 .6 6-.6 2 .5 9.6 5.8 3.6 6 12.6 6 2.6 2 1.6 2.5 2 1.2 2.6-1.7 1.4-.2 2 .5 1.5 1.7 4.5 10.1 4.9 3.9 1.2 1.8 2 1.1 3.1-2.9 4.9-1.9 1.6-2.1 2.4-4.8 2-2.1 2-.8 2 .2 2.6 1.5 .3 2-3.1 8 0 2 4.2 .5 2-1.2 2.4-3.3 5.6-1.4 4-1.9 8-5.1 8.1-6.7 2-.8 4 .5 12-5.3 4.2-3.3 6.5-12 11.2-12.1 4.1-2.9 2-1 4-1 6.1-4.5 6-.7 4-1 2 0 4 3.1 2 .7 2 0 2-.9 2.2-3.8 .1-2-1.2-6 .3-4 .6-1.2 2-1 4-.2 5.4-5.6 2.6-1.3 10-1.7 4.1 .1 6 2.7 4 1 6 3.4 6 .6 2 .7 3.1 4.5 .9 .6 10 0 1.3-.6 .5-2-1.3-6 .2-2 1.3-1.9 6-1.9 4.6-4.2 7.2-4 2.3-2 2-4.6 1.2-1.5 .8-.4 2 .7 4 6.4 2 1.7 2 .1 6-6 2-.2 2 .6 2-.4 3.8-2.5 .9-2-4.7-2.1-2 1-2 2.2-2 .5-2-1.9-1.4-3.7 1.4-1.3 2-.5 4 .2 2-2.3 .8-10.1 1.2-2.5 5.2-5.5 1.4-4 0-4-2.8-6-1.2-4 .1-2 3.5-4-1.2-2.1-2.2-2-.8-2 .2-2 1.2-2 2.7-2 1.7-2 6.1-10 2.1-8 4.1-7.7 2-1.9 2-.5 4 1.2 1.4-1.1-1.5-4-4-6 .1-2 1.9-6.1-.5-6 8.6-3.2 4-.1 2.5-2.7 .5-2-5-1.5-4-3.6-2-.9-2-.1-2 .5-1.8 1.6-.7 8-1.5 1.3-4-.7-2.1 .5-2.4 2.9-1.6 .9-2-.1-1.9-.8-1.6-2-.3-2 1.2-2 3.5-2 1.1-1.3 1.6-4.7-3.6 .7-4 3.2-2-.1-3.7-7.8-.2-2 1.2-2 4.7-2.4 4-2.9 2 0 4 1.7 2.1-.3 2-1.4 4.5-6.7 .8-2-.1-2-.7-2-2.5-4-4-3.9-4.1 4.3-4 .7-2-.5-4-2.3-2-2.7-.6-3.7 .5-4-.4-8 .6-2 1.9-1.5 5.1-2.5 2-2-.1-4-1.5-4-1.5-1.2-4.2-.8-3.8-3.2-4 .4-2-.5-2-3-2-1.6-6-1.5-2-2.4-2-6.3-2-1.7-2-1-4 1-2-.2-5.7-2.1-.7-2 .1-2 2.3-8 2-2.8 2.8-1.2 .2-4-1-1.5-2-.3-5.4 3.8-4.7 1.4-2 .1-8-2.2-12-1.3-.4-2 1-2 .1-2-.6-2-5.3-8-1.1-4-1.6-2-4.1-1.1-6-4.8-6-2.7-1.5-1.5-2.2-6-4-4-4.4-1.7-4-.6-2 1.2-4 5.4-2 .3-4-2.2-6-2-.8-2.4-.3-4-.9-1.2zM418.8 115.5l-1.1 .7 1.1 8.9 2 3.6 2-1.4 4.5-5.1 2.5-4-.8-2-2.2-1.1-2-.3zM472.9 172l-1.3 2.3-.2 2 1.5 1.7 2-.6 .6-3.1-.6-2.3zM94.2 370.4l-1.3 .3-.7 2 2 .7 .9-.7 .5-2zM464.9 214.9l-5.8 5.5 5.8 0 2-1.1 .4-.9-.4-3zM452.8 176.3l-.5 2 .5 1.7 2 1.8 4 0 2 .9 .6-.4-1.2-4-2.3-2-3.1-.8zM308.8 72.1l3.8-.5 2.2 .5 2.4 6 .2 2-.8 2.8-2 1-7.1-7.8-1.2-2zM299.3 88.2l1.3-1.1 2-.3 6 .4 1.3 1 .5 2-.5 4-1.3 1.7-2 .3-2-.8-3.8-3.2-1.2-2z"/><path fill="#38b99e" d="M0 0l75.4 0 1.4 6-.3 4-1.1 4-3.3 4.1-2 .6-4-.3-2 .7-3.4 2.9-4.6 6.3-2 .9-2-.2-4-1.7-2-.3-8 2.9-6 .4-3.6 1.8-1.9 2-2.4 4-2.2 6-1.9 2-6.1 1.5-6 2.4-8 .8zM114.3 0l23.6 0 .4 .7 2 .7 4-1.4 1.5 2 .5 1.5 .5 4.5 1.5 5.9 .2 4.1 2.9 6 .9 4.1 1.8 2 2.2 .9 6-.4 8 1 4-1.6 .6-1.9-.1-6.1 .9-4-.6-4 .3-6-1.1-1.1-4-1.4-1.9-1.5-1.5-4 26 0 2.5 8 4.8 6 1 2 .1 2-1 2-2.7 2-3.2 1.8-6.1 1.9-2 6.6-2 1.6-5 2.2-2.4 6-1.7 2-2.9 1.7-2 0-6-3.1-6 .2-6-3.3-10-.2-2-1.2-3.3-4.1-.1-2 3.4-9.8 2.2-2.3 1.1-2 0-2-1.2-2-3.2-2-1.9 0-2.1 2-1 3-1.2 1-2.8 .8-2 0-9.9-2.8-.5-2 1-4 1.4-1 4 .1 1.9-1.1 .2-2-2.1-2.2-2-.1-4 1.4-2-1.4zM245.2 0l7.6 0-4.3 1.3-2-.4zM254.7 0l4.6 0-2.8 .4zM498.8 0l6.5 0-2.4 2.3-2 0zM89.4 8l2.8-1 4 .2 4 3.8 2 .7 4-.2 2 .5 4 2.7 3.4 1.3 1.3 2-.8 6-1.9 1.6-8 1.4-2 1.1-4.8 6-2.5 2-2.7 1.1-8 .5-2-.6-4.1-2.7-4-1-1.8-1.3-.5-2 .3-.9 4 .5 2-1.2 3-6.5 5.1-4.4 1.4-3.6-.5-4zM164.9 8l1.4-.9 2 1 2.5 3.9 .6 2-1.1 2-2 .4-.4-.4-3.1-6zM542.6 28.1l.4-.7 0 1.1zM117.7 32.1l2.5-1.9 2 .1 2 1.9 2.5 3.9 1.3 4-.3 2-1.5 1.5-2 .5-2-.5-6.1-5.5-.7-2 .6-2zM83.3 44.1l2.9-.7 2 1.1 1.3 1.6 1.8 4 3.8 2 1.7 2-.5 2-2.1 1.2-2-.5-2-2.9-2-1.3-2 .4-3.1 1.1-.9 1.4-.4 .6 1 2 3.4 2.5 8 2.2 6 3 2 1.8 2 3.6 2 2.1 4 1.3 1.4 1.5 1.4 4 3.2 5.8 4.2 6.3 1.7 8-.7 2-3.2 3.7-.9 2.3-.4 8-.7 1.2-6.7 2.8-3.3 3.3-2 .5-4-3.3-2-.8-2 .1-4 2.3-2 .1-10.1-4.4-2-1.4-2-3.3-1.7-7.1-.2-4 .7-4-.9-4-3.9-5.1-4.1-2.9-2.8-4-6.8-4.1-2.3-2.6-4.4-3.4-1.6-2.2-1.7-3.8-.3-2 4-5.3 2-4.9 2-1.3 2-.2 2 0 2 1.4 4 9.5 2 1.1 2-.3 2-1.1 3.5-2.9 1.5-2 .5-2-.4-6 .6-2 3-2zM140.9 44.1l1.4-.5 5.3 8.5 .7 2-.7 2-3.3 3.1-4 5.4-2 .8-2 0-2.1-1-1.7 5.7-2 2-4.3 .1-2-1.1-1.1-1-2.9-6.1-6-.5-2.4-1.4-.8-2 .2-2 1-1.9 2-1 6.9 2.9 5.5 4 3.6 1.2 2 1.2 1.5-.4-.5-8 1-2 3.7-4 2.4-5.8zM99.4 136.3l2.8-.9 2 .7 2 2.2 4.1 10 1.8 8 5.1 4 .8 2 .5 4 2 4-.1 6 .4 2 2 6 3.4 5.2 .5 2.9-.7 2-3.6 6-2 2-8.2 5.2-2 .7-4 .4-1.9 1.7-1 2 1.4 2 7.5 3.1 1.8 2.9-.1 2-3.7 11.1-2 2.1-2 .9-.9 1.9-.2 2 1.9 4.1-2.8 4-4 3.8-2.9 6.2-5.1 7.8-8 4.8-10.1 3.6-2-.4-4-4.2-2-.5-3.5 .9-10.1 8-3.2 4-4.7 8-.1 2 1.7 8.1-2.1 8 .1 2 3.8 8-.5 6 3.3 10 .2 8 1.5 8-.2 10.1 5.2 18 .4 20 3.8 16.1 2.4 2.3 10 5.7 4-.1 8.1-3.5 2-.2 12.5 3.8 3.8 2 1.7 4 4 4.3 11 7.7 1.5 2 3.5 9.7 1.3 6.3-.6 2-5.4 8.1-.2 4 .7 2 2.2 2.8 2.9 3.2 3.1 2.3 4 1.7 4.1 .9 22-.8 10 1 8.6 2.9 5.4 1.2 4-.2 4.1-1.1 4 .1 2 .7 6 3.8 8 3 6 5.2 2 .8 6 .7 2-.2 8-3.4 4-.2 6.1 .8 6-1.7 12-1 2-.7 2-1.7 2.5-4.1 3.5-3.2 2-2.9 3.4-5.9 .4-2-1.5-4-3.3-4-1.7-4-4.7-8.1-.3-2 1.1-4 3.1-4 3.5-2.6 6-2.8 8-2.2 6-7 6.1-4.7 2-.9 4-.6 16 1.2 8 2.6 6 6.7 2 1.1 2 .4 2-.5 4-5.3 2.9-1.4 1.1-1.2 .4-.8-1.5-4-.1-2 1.2-1.5 2.1-.7 10-1.1 2.2 1.3 1.8 4.8 1 1.2 7 1.3 2 .9 2 1.9 2 3 1.3 2.9 .7 4-.7 8-1.2 2-2.1 .1-2-.7-2 .5-8 5.5-2.9 .6-.4 4-.7 .5-6 .5-4 1.3-1.9 1.8-2.2 6.7-2-.2-6-4.3-2-.3-4 1.3-6 .9-3.1 1.9-1.2 2 .4 4 2.2 6 .1 10 1.5 8-.6 8 2.7 20.1 2 4.7 5.6 7.3 1 2-215.5 0-9.5-1.2-18-.7-40.1 .6-10 .9-34.1-.9-8 .5-3.4-1.2-1.6-2-.9-4 .7-8-.8-4.4 0-6.3 2.7-9.4 .4-6-1.1-20-2-7.8 1.2-6.2 0-2-1.2-4.3 0-248.5 1.8-3.7 2.2-2.3 4-2.3 4-1.2 2 .6 2 1.4 8 10 4.1 1.6 4-.1 8-3.2 10-1.6 6 .5 3.5-1.4 8.5-7.9 3.1-2.1 1.3-2-.5-2-2.3-4 .1-2 1.2-2.1 5-4 2.1-2.8 2-1.4 8.1 4.7 2 .2 1.4-.7 1.1-2-.4-6 1-2 6.8-4 4.6-4 .8-4-1.3-4.7-2-1.5-8-.8-1.1-1-.9-2.9-2.9-3.1 0-2 1.4-2zM536.5 330.6l2.5-1.1 4-.4 0 27.9-2.4 1.7-1.3 2-.3 2 1.2 2 2.8 1.2 0 9.4-2.8-4.6-3.2-2.5-2-.5-6 .1-2.4-1.1-1.1-2 .2-6-1.1-6.1 .5-2 3.2-6 3.3-4 1.4-6.4 1.1-1.6zM524.1 382.7l2.9-.4 4 .8 2.9 1.6 .4 2-3.3 5.4-2 6.7-5.1 3.9-1.3 8.1 .4 2.5 1.6 1.5-1.6 .5-1.3 1.5-10.8 4.2-6-1.6-4-4-2 .8-.9 2.6-1.1 .8-2 .9-2-.1-6-1.9-6-4.8-10 2.2-4 3-4.5 1.9 .1 2 6.4 6.6 .4 1.4-.8 6 2.4 8.1 2 2.4 2.7 1.5 5.3 2 8.9 2 1.7 2 1.4 4 2.2 4.1-.2 4.3-1.9 1.7-4.1 1.9-6 5.1-4 2.7-2 .9-4 .4-2.9 3-3.1 1.7-8.1 1.4-4.3-1.1-2.7-2-3-8-4-4.7-8-4.2-3.7-3.1-8.3-2.3-1.4-1.8 1.2-6 0-4-2.3-2-7.5-1.5-2-1.9 .3-2.6 2.8-2 4.9-2 1.8-2 .3-4 .8-2 1.1-1 2-.7 6 .9 6-.2 2-.7 6-5.3 12-2 1.4-1 .9-4 2.4-4 1.4-4.3 2-1.7 2.3-.1 1.7-1.1 0-1-5.9-3.9 7.9-5 2-1 10-1.9 8 2 6-1.8 11.6 5.7 2.4 .2 2-1 1-1.2 .7-4 2.4-3.8 2-2.3zM468.9 476.3l-.5 .6 .5 .7 2 1 .7-1.7zM492.9 404.4l-.2 2.3 2.2 2.6 .7-2.6-.5-2zM542.3 392.7l.7-.4 0 5.7-1.9-1.3-.4-2zM535.4 408.8l1.6-.7 2 .1 4 1.5 0 24.6-4 2.6-2 .4-5.8-2.5-4.2-.4-4-1.1-2.3-2.5 4.1-6 .7-2 .2-2-1.1-4 .4-2 4-3.4zM529 438.8l2-.2 1.4 2.2-.6 4-.8 1.7-2 1.1-2-1.8-.6-3 .6-2.1zM533 448.8l2.3 0-.3 3-2 3.9-3.3 3.1-1.5 6.1-2.2 2-5 3.3-4 1.4-4.1-.7-2.7-2-.2-2 4.9-9 8.1-.2 2-.7 .7-2.2-.6-2 .5-2 1.4-.8 2 1.1 2 0zM534.7 476.9l2.3-1.1 6 .8 0 66.4-32.5 0 4.4-6.8 2.4-5.2 .2-2-1.6-10-1.4-4.1-1.6-1.8-2.8-2.2-1.2-1.9-2-6.4-2-3.4-2-1.5-2.4-.8-2-2-.4-2 1.2-6 .2-4 1.4-2.5 2-.8 4 2.6 12.1 .8 4.9-2.1 7.1-1.7zM504.9 486.2l-2 .9-1.7 1.8 .1 2 1.6 2.1 2 .8 3.2-2.9 .1-2-1.3-1.8z"/><path fill="#59bd8c" d="M21 352.6l3-.8 2 0 4.1 2.2 2.3 2.7 3 6 6.7 10.7 1.5 5.3 1.4 12 6 24.1 3.1 7 8 12 4 3.8 2 1.1 6 0 2 .5 12.1 7.2 6 2.1 2 1.4 8 9 .7 1.9-.1 2.1-1 6 .4 2 2.7 6 3.3 3.8 8 7 8.7 5.2 9.4 3.1 8 .9 8-1.3 4 0 6 1.3 4.9 2 15.6 10 4 4 4.7 6.1 .7 2-.7 2-1.7 2-3.5 2.6-8.9 3.4-15.1 3.5-6 0-4.2-1.5-1.8-2-.5-8-1.1-4-2.4-3.1-2-.7-2 .4-1.3 1.4-1 2-.3 2 .6 5.7 1.9 4.3-.2 2-3.7 1.5-16.1 0-10 .6-6 .9-8 0-8 1-6-.4-14.1 .4-14 .5-8 1.2-6-.3-8 .6-14.1-1.3-4-1.8-6.7-4.9-2-4-.5-4-2.1-6 .3-4.1 1.3-6 .4-6-1-8-.3-12-1.6-8 1.2-8-1-5.4-3.5-12.7-.5-8.2 1.7-5.8 4.8-8-.8-8 .8-4 1.5-2.5 6-4.8 1.4-2.8-.2-2-1.2-2-5.8-4-.8-4 .6-3.2 2.8-6.8 .6-12 1.6-6 3-5.2 2-2.5z"/><path fill="#7cbf7b" d="M25.6 410.8l4.5-1.4 2 .2 2 1.2 6 8.5 5.9 11.5 4.1 4.7 6 10.1 2.9 3.2 3.1 2.1 8 3.2 6 4.2 6.1 3.1 9.5 15.5 2.6 6 1.6 2 12.3 6.4 10 6.6 10 5.2 4 3 1.6 2.8 .2 2-.3 6.1-.4 2-1.1 1.2-6 3.7-7.4 3.1-14.6 4.1-6 .1-8 1.5-8-.3-6.1 .6-8 0-22 2.1-14 .8-12.1-1.9-2-1-6-5.4-2-2.7-.7-1.9-1.3-8.1 .3-4 2.3-10-2.1-8 .5-8-1.3-6 .4-22.1-1.8-12-.1-6 .4-2 3.3-8 .1-8 2-3.7 4-2.6z"/><path fill="#9cbf6f" d="M21.5 428.8l2.5-.2 2 1.1 6 5.1 9.1 6 2 2 1.9 4 3 10 9.3 16.1 .1 2-1.3 1.3-1.1 2.7 .3 2 .8 .9 4 1.7 2 0 .9-.6-.6-2-2.4-4 .1-2 4-2 2 .7 4.3 5.3 .5 2-.5 2 .8 2 11 4.5 2 1.2 6 5.8 6 3.5 8 3.8 6 5.1 1 2.1 0 2-3.9 6.1-5.1 3.1-12 3.7-24.1 2.1-30 4.9-6-.1-7.7-1.7-3.4-2-4.3-4-2.7-4-1.2-6.1 0-4 1.2-4.6 3.4-5.4 0-2-2.3-4-.4-2 .4-2 1.2-2 3.7-2.8 .7-1.2-.4-2-2.2-4-.1-2 1.7-6-2.4-4-.5-2 2.7-8.1 .6-6 2.2-8-.5-10 .3-2z"/><path fill="#c0bc60" d="M30.8 466.9l3.3-.9 2 .6 2.2 2.3 1.8 3.9 .2 2.1-.3 2-1.9 1.5-4 1.7-2-.1-4-.8-2.1-1.9 0-3.1 1.1-3.3 1-1.8zM30.1 482.9l2-1.4 2-.3 2 .7 10 6.1 12 10.9 3.6 4-.1 10-1.5 2-4 3.5-3.5 4.6-2.5 1.8-12 4.2-8 .1-6.7-2.1-3.4-2.5-3.3-3.5-1.3-2-1.4-4.1-.1-6 4.2-6 .8-2 .1-2-1.4-4 .5-2 5.4-4 4.6-4.9zM68.1 502.9l2-.6 4.3 .6 2.8 2 2.3 4 .1 2-1.5 2.5-6 3.6-2 .4-3.6-.4-2.1-2.1 1.2-10z"/><path fill="#d9ba56" d="M28.4 492.9l5.7-1 6 1.6 5.5 3.4 3.4 4 1.9 4 .5 4-.3 2-2.4 6.1-3.4 4-7.2 3.1-4 .7-2-.1-6.1-2-2.5-1.7-3.6-4-1.8-4.1-.1-2 .6-2 3.4-6 2-6.5 2-2.1z"/><path fill="#f1b94a" d="M30.5 500.9l3.6-.9 4 .9 2.5 2 1.1 2 .6 2-.3 4-1 2-2.9 2.7-2 .7-4-.2-4-2.8-1.7-2.4-.3-2 1.2-4 1.1-2z"/></g>
</g>
<rect x="1.5" y="1.5" width="540.5" height="540.0" fill="none" stroke="#000" stroke-width="3.0"/>
</g>
<g transform="translate(2352,671)">
<g transform="scale(1.00000,1.00000)">
<g fill-rule="evenodd"><rect width="543" height="543" fill="#352a87"/><path fill="#352a87" d="M0 0l543 0 0 543-543 0zM510.9 506.9l-2 .4-2 1.5-.8 2.1 .2 2 1.2 2 1.4 1 2 .4 2.9-1.4 1.3-2 .1-2-.8-2-1.5-1.3z"/><path fill="#3637a0" d="M0 0l543 0 0 543-543 0zM506.9 500.8l-3.2 2.1-2.8 3.6-.9 2.4 0 4 1.8 4.1 3.1 2.9 4 1.5 4-.2 3.9-2.2 1.7-2 1.9-4.1 .2-4-1.6-3.7-4.1-3.7-4-1.2z"/><path fill="#2c4ac7" d="M0 0l543 0 0 543-543 0zM504.9 494.4l-6 3.8-2.2 2.7-3.1 8-.2 2 1 4 4.2 6.1 4.3 3.2 6 1.2 6-.6 4.1-2.5 4.2-5.3 1.9-6.1-.3-6-1.8-4.4-2-2.7-4-2.9-6.1-1.6z"/><path fill="#0268e1" d="M0 0l543 0 0 543-543 0zM504.9 488.6l-4 2.3-4.8 4-3.5 4-3.1 6-1.4 4-.1 6 1.7 4.1 1.7 2 7.5 6.5 5.1 1.5 10.9-.5 4.1-1.5 2-1.4 2.6-2.6 2.7-4 1.4-4.1 1-6-1.1-8-2.6-6.2-2-2.7-2-1.6-4-1.7-4.1-.9-4 0z"/><path fill="#0d75dc" d="M0 0l543 0 0 543-543 0zM504.9 482.5l-5.3 2.4-4.7 5.7-4 3-2 2.2-8.4 13.1-1.2 4 .4 4.1 2.2 4 3 3 12 7.1 4 1 6 .5 6-.5 6.1-1.2 3.5-1.9 2.5-2.1 2-2.2 2-3.7 2.4-10.1-.4-7-1.2-7-2.8-7.8-2-2.7-2-1.6-8.1-3.6-4 0z"/><path fill="#1481d6" d="M0 0l543 0 0 543-543 0zM510.9 472.7l-8 4.3-6 4.5-4 4.9-6 5.9-4 5.3-6 6-5.1 7.3-1.5 4 0 2.1 .8 2 5.3 6 4.5 3.5 16 5.6 14 .9 10.4-2 5.8-4 3.5-4 1.2-4 1.7-10.1-1-14-3.5-13-4-5.7-6-5.4-4.1-.9z"/><path fill="#0c93d2" d="M0 0l543 0 0 543-543 0zM510.9 462.8l-2 1.3-10 10.4-6 8-4.6 4.4-5.4 6.8-4.4 3.2-9.6 8.8-6.8 5.2-1.5 2-.7 4.1 1.9 4 3.1 2.9 12 8.3 2 .9 8 1 8 2 16 .8 12.1-2.2 5.5-3.7 4-4 1.2-4 1.3-12.1-.6-14-3.4-17.7-6-10.5-3.2-3.8-4.8-2.5-4.1-.3z"/><path fill="#06a0cd" d="M0 0l543 0 0 543-543 0zM517 448.8l-4.1 .6-2 1-4.9 4.4-11.1 18.6-3.5 7.5-4.6 4-4.3 6-1.6 1.5-14 8.6-10.7 3.9-7.1 6-2.3 3.3-.7 2.8 .7 2.9 2.4 3.1 9.6 6.4 16.1 6.2 4 1 8-.1 6 1.4 8-.2 10 .7 10.1-1.1 4-1.4 8-5.8 2-3.1 .5-2 .8-12.1-.5-18-1.5-16-3.2-8-.7-6-1.4-3.6-6-9.3-2-1.8z"/><path fill="#07a9c2" d="M0 0l543 0 0 543-543 0zM512.9 424.4l-3.6 2.4-4.1 4-2.2 12-11.3 24.1-2.8 11.2-8 9.8-4 3.1-14 5.2-8.1 1.8-6 3.1-12 2.9-5.7 2.9-3.9 4-2.2 4 .4 4.1 2.8 4 5.8 4 10.8 4.8 14 3.9 10.1 1 8 2.3 10-.5 6 1.4 8-.8 8 .9 12.1-.9 4-1.1 8.7-5 1.5-2 1.8-4 1-6-1-20.1 .4-6-1-10 .6-6-1.9-8 .7-8-1.7-6.1-.1-8-3-12.8-2-4.3-2-2.8-2-2.1-4-2.6-4-.8z"/><path fill="#15b1b4" d="M0 0l543 0 0 543-543 0zM156.3 392.1l-5.7 6.6-1 2 .5 2 3 2 5.2 .8 6-.9 3.6-1.9 .7-2 0-2-.4-2-1.9-2.8-2-1.5-4-1.5-2 .2zM186.3 408.4l-8 2.5-3.7 3.9-1.6 4-2.3 12 1.2 14 3.2 14 1.2 2.5 6 4.5 6 9.8 8.1 6.7 4 1.7 4 .8 6 .1 4-.7 2.7-1.3 4.1-4 7.2-1.9 2.4-2.1 1.1-4-.7-8 .4-2.1 1.9-2 4.9-2.4 1.7-1.6 .8-2-.6-8 2.3-8-.2-2.4-2.3-3.6-11.8-8-7.9-8.7-2-1.6-2-.8-4-.1-6 2.3-4 .3-10-5.6-2-.5zM398.7 204l-.4 .4-.1 2 2.3 4 2.2 .4 1-.4 1-2-1.1-2-2.4-2zM452.8 167.4l-6 5.8-2 1.5-2 .6-2-.3-6-3.6-4-.8-2 .4-8 4.5-10 1.3-2.3 1.5-1 2 .5 2 2.8 3.5 1.3 2.5 .3 8.1 1.5 6-.7 2-3.8 4-.1 2 2.5 2 3 1 8 1.1 2 1.9 3.7 8-.2 2-9 4-2.5 1.9-.6 2.1 .2 2 3.6 8.1 3.4 10 1.4 2.1 4 3.8 4 1.8 18 1 3.9-.7 2.1-1.2 .9-.8 .5-2 .1-6 1.6-6 .1-2-1.3-6.1 .9-2 7.3-1.3 4-2.4 10.4-10.3 2-4 2.8-14 .2-4-.5-2-2.7-4-4.2-3.4-2.1-2.7-1.8-4-2-8-1.1-2-2-2-3-1.9-8.1-3.7-4-.2zM519 396.6l-6.1 1.9-4 2.2-10 8.1-4 4.7-4 7.1-1.5 4.2 .1 8-.8 6 .8 8-1.2 14-3.7 14.1-5.8 8-1.9 2.1-4 1.7-16.1 2.3-8 2.2-6 .5-12 2.5-12 3.6-7.3 3.1-11.9 8-3.1 4-.7 4.1 .6 4 1.9 4 2 2 3.2 2 5.3 1.9 28 6.7 16 1.8 18.1 .4 6 1.3 8-.8 8 1.4 8-1.2 8 .9 6-.7 8.1 0 6-2.7 6-1.5 1.9-1.5 3.4-12-1.1-8.1 .7-12-.9-1.4-.4-2.6 .5-4-.9-10 1.2-6-1-8 1-8-1-6.1 .2-8-1.2-14-2.8-16-3.9-14.1-2.2-4-3.5-3.3-2-.8z"/><path fill="#38b99e" d="M43.5 2l2.6-.2 6 2.4 2-.2 2-1.2 2.4-2.8 255.5 0-1.6 2-2.9 2-4.1 2-18.9 4.6-2-.1-6-2.6-2.8-1.9-5.2-5-2 0-2 1.7-1.7 3.3-2 10-1.4 4-2.9 3.3-2 .7-2-.1-8-3.7-4.1-.9-4 .3-2 1.3-1.7 3.1-.1 2 1.7 10.1 2.1 2.4 2 .2 6.1-1.3 4 .5 6 4.3 2-.6 3.8-5.5 2.2-1.9 2-.6 2 .3 3.2 2.2 3.5 4 1.3 1 2 .5 2-.6 1.2-.9 3.8-6 3-2.1 4-.4 6-2.1 4.1-.7 10 1.1 4.8 2.2 3.2 6.7 5.4 5.3 .8 2-2 8 0 2 .6 2 1.2 1.5 2 1 4 .3 10-4.1 2 .2 2 1.3 1 1.8 .8 4 .5 6 1.1 6 .1 8.1 1.5 2 3.1 1.6 9.6 2.4 2.6 2-1 6 .7 2 4.6 4 .7 2-1.1 4-2.1 2.2-2 .8-2 0-2-.7-4-2.8-2-.2-7 4.7-1.3 2 .1 2 2.1 1.6 6.1 .3 2 .8 1.3 1.3 .8 2-.4 4-4.7 14.1-.5 4 .9 4 4.6 8.7 4 6.2 1.5 5.1 0 6-2.7 8 .3 8.1 .9 6.2 2 3.3 6.8 4.5 1.3 2 1.9 7.8 1.7 2.2 4.7 4 9.6 3.4 2 1.3 10 10.5 4.1 7.2 4.7 3.7 1.6 2 1.7 7 2 3.4 9.3 9.6 6.7 9.7 7.6 8.3 2.9 6 .8 4-.2 4.1-1.4 6 .2 4 2.1 3.7 4 4.3 .8 2 0 10 1.2 5 2 2.2 4 1.1 2-.3 8.1-3.3 6-.8 4-1.2 4-3.2 4-5.5 3.4-12-.1-12 .7-2.1 1.7-2 .9-2 1.3-8 2.9-6 7.2-7.9 .8-2.1-.2-2-1-2-1.6-1.8-4-3-.8-1.2-1.9-8-3.5-8-.4-2 .6-4.1 1.9-4 2.1-2.2 2-1.1 6-1.2 4-2.9 2.9-4.6 .5-4-.7-6-3-8-.1-8-1.3-6-2.3-4.1-2.5-2-5.5-2.9-3-3.1-2.1-6-2-12-1.6-4-4.3-4-11-7.5-10.8-4.5-1.5-2-.4-2 .4-6.1 .9-2 1.4-1.2 10-6 8-3.3 8-4.1 4-.5 4 .4 2 .7 6 3.8 2 .6 2.1-.4 1.9-2.6 3-9.4 1.3-28.1-1.7-2-6.6-1.5-3.2-2.5-.2-2 3.4-4.1 2-5.1 .4-2.8-1.6-4-2-2-2.8-2-4-1.3-4 .1-4.3 1.2-3.7 2.8-2 .5-2-1.1-2-.4-14 5.5-2 .3-1.6-3.6-2.5-2-4-.8-4 .6-5.6 2.2-6.4 6-2 1.3-2 .3-6-1.1-8-3.9-1.8-2.6-.2-10 .8-4 4.2-8-.1-2-3.3-6.1-8.8-8-1.3-2-.5-2 1-8 .1-6 39.4 0-4.5 6-1 4 .3 4 1.5 6 2.2 4.7 2 2.6 2 1.1 2 .2 2-.5 2.8-2.1 3.3-4.7 4.7-5.3 1.1-2 .9-4-.2-2-2.8-4-1.5-4 29.9 0-.5 2-3.6 2.9-2.3 3.1-.6 2 .3 2 1.3 2 3.2 2 4.1 1.6 4 .5 6-.6 4 2.2 3.9 4.3 6.9 12.1 3.3 7 4 6.1 2 .5 6.1-3.6 3.9-1.1 0 284.6-4-1.7-4-.2-8 3.4-4 3.1-5.7 6.4-.7 2-1.4 12.1-2.3 5.5-2 1.6-6 3-2.9 3.9-1.7 6-1.3 16-1.9 4-6.2 9.2-4.5 10.9-2.3 14-.7 34.1-3.3 10-2.4 4-2 2-3 2-5.8 1.5-20.1 2.1-20 .5-34.1 9.4-8 .9-4 2.4-6 7.8-4 3.9-4 2.9-6 2.9-4 1-2-.1-3.4-1.2-4.7-2.9-6-.3-11.2 3.2-4.3 2.1-2 2-.7 2 .5 4 1.7 2.9 1.6 1.1 8.4 .8 4 1.1 4 3 4.4 5.1 3.5 2 13.9 2-323.9 0-2.4-6-7-10-2.4-6-1.5-2-7.4-4.1-11.8-2.2-8-3.9 0-46.6 10-5.8 2-.2 10 4.3 4 .4 4.1-.3 4.7-1.8 5.3-4.8 4-1.8 4 .7 4 2.7 2 .7 3-7.5 5.5-6 1-8 1.7-4 2.8-3.3 4-1.6 6 0 2 .3 2.1 1.2 8.6 13.4 .2 2-.8 2-3.3 4-1.6 4 .5 2 2.4 3.2 1.2 2.8 .7 4.1-.5 2-1.4 2.2-2 .8-4-1.1-2.8-1.9-.9-2 1.4-8.1-1.1-2-2.7-1-2 0-2 .5-2.8 2.5-3 6.1 .3 6-.5 2-3 6-3 3.2-2 3.4-3 9.4 .5 4 1.3 2 3.2 2.6 2 .6 8-1.8 8-.3 2-1.3 1.6-3.8 .5-5.5-4.1 1-4-.3-4-1.2-3.1-2-1.6-2-.7-2 .4-2 1-.8 2 0 6 2.5 8.1 2.3 .1 4 1.9 .6 10 .3 4 .9 10 6.6 20 9.9 6 1.7 6.1 .4 4-.8 4-1.6 2.8-2 1.6-2 1.8-6 1.2-2 8.6-6.1 2-1 4-.8 4 .6 2 1 10 10 10.1 7.4 4 2.2 6 .8 10-.2 14 4.1 4 0 4-2.2 6.1-7.1 6-4.1 4-1.2 8-.7 8-3.3 4 .2 4 .9 2.7 1.5 3.3 3.1 4 1.9 8 .9 4.1-.2 4-.9 6-3.1 3.7-3.7 4.3-9.9 1.6-2.1 2.4-1 6-1.1 2-1 3.2-2.9 .8-2-.2-2-5-12.1-7.3-8-.8-2-.8-8-2.5-4-3.4-2.2-6-2.2-6-4.6-4.1-.9-4 1.1-2-.5-3.3-2.7-10.7-5.3-8-5.9-13.2-4.8-2.3-2-.8-6.1-1.6-2-6.1-3-19.4-13-3.1-6-7.6-5.5-1.7-2.5-2.3-5.8-2.9-2.2-3.9 0-3.8 2-2.9 6-6.5 8.7-2 2-2.1 1-2 .2-4-1.2-6.4-4.7-2.1-4-.2-6-1.4-4-5.9-9.1-4-2.9-4-.4-6 2.3-4 .9-10-1.8-2 .6-8.1 5.1-2 0-10-5.1-4-.4-4 1.2-12 6.7-2 2.2-8 13-2 1.6-6.2 2.1-8.7 8-3.2 .7-12-.3-10-4-2.7-2.4-3.3-10.4-4.6-3.6-1-6-4.4-4.4-2.1-3.2-.7-2.5-.6-4 2.5-6 .1-2-1.5-4 0-2 .8-2 5.5-6.1 2-1.3 2 .3 3.8 5.1 2.2 1.9 8 4.6 8 1.1 8 3.5 4 .3 2.2-1.4 .4-4 1.7-4 .6-4-.9-2.2-2-1.3-2-.4-8 .7-4-.3-2-1.1-6-6.5-4-1.5-4 .6-6 4.5-2-1.7-.6-2.8 .2-2 3.4-6 .2-2-1.5-10.1 .7-10-.5-8 2.2-4 8.7-6 4.4-4 1.5-2 .3-2-4.4-6-2.6-10.1-2-3.6-2-1.8-4-1.4-10 2.9-4.1-.8-4-2.1-2 .1-8 7-4 .9-6-.8 0-114.1 .8-2.5-.8-2.6 0-53 7.1-10.5 4.5-10 1.3-6 3.2-6 1.1-6 2-6.1-1.6-6 .1-2 2.3-6.3 2-1.6 2-.2 8.1 3.9 4.3 .2 2.8-2 2.5-8zM92.2 504.5l-4.1 2.4-1 2 .8 2 2.5 2 3.8 1.6 2 .3 2-.4 1.7-1.5 .7-2 0-2-.8-2-1.6-1.7-2-1zM36.1 339.7l-1.7 .9 1.7 .9 .6-.9zM333.8 0l27.9 0 .3 6 1.9 8 2.8 2.4 2 .3 4-1.7 2-2.1 5.3-8.9 1.6-4 15.8 0-1.1 6 .9 10-.8 4-3.7 8.1 0 8-.9 4-1.1 1.4-2 .4-6-2.2-2-.4-6 .5-2-.3-2-1.2-2-2.7-4-7.8-4.6-5.8-1.6-4-1.4-2-4.5-2.5-4 0-10 3.5-12 1.7-2-.3-2-1.3-2.4-3.1-.5-2 .4-2 10.5-3.2 2.6-2.8zM402.6 62.1l2.1-.9 2 .3 5.8 2.6 1 2 1.3 8-.7 4-1.3 2.2-6.9 5.9-1.4 4-.2 6-.7 2-6.9 1.8-4 .5-4-.9-10-4-4.1-3.4-1-2 1.2-2 9.9-6.4 4-1 7.7-.7 2.3-1 .8-1 .1-10 1.1-3.2zM442.3 68.1l2.5-.9 2 .5 8 3.3 2 1.6 3.5 5.5 2.6 1.7 2-.5 4-4.4 2-1 2 .2 2 1.2 1.8 2.8 .9 4.1-.1 2-1.1 2-3.5 2-8 3.5-2 .5-2.1-.4-4-2.7-6-5.8-8.8-5.2-1.6-2-.2-4 .6-2zM428.2 78.1l2.6-.9 2 .1 2 .8 1.1 2-.6 4.1-1.8 6-.7 1.2-2 1.6-2-.3-.5-.5-1.5-2.5-1-3.5-.2-4 .5-2.1zM10.8 352.6l1.2-.2 2 1.3 2.3 3 3.2 10 3.6 6 1.3 14 1.6 1.6 6.1 .2 2 .7 2 1.7 .6 1.8-.6 2-3.6 4-2.4 1.2-2 .2-4.1-.8-8 1.1-16 .1 0-22.8 1.3-1-1.3-1.9 0-9.6 2 .4 2 1.1 4 7.7 2.3 .3 1.7-2.5 .2-3.5-3.7-6-.7-4 1.1-4 1.1-1.9zM47.7 402.7l2.4-1.3 2.4 1.3 .1 2-2.5 .8-2-.7zM543 452.8l0-.5 0 46.3-1-1.7-1.5-10 1.5-10zM542.6 506.9l.4-.9 0 14.9-1.6-8zM542.8 527l.2-1.1 0 6.3-.5-3.2zM462.6 543l8.3-.5 3.7 .5zM481.1 543l5.8-.6 2.7 .6zM497.3 543l3.6-.7 8 .7 6-.5 8.1 .3 8-1.7 5.3 1.9z"/><path fill="#59bd8c" d="M136.4 24l1.9-.3 2 .4 8 3.2 9.6 6.8 12.4 5.1 2 1.7 1.9 3.2 5 6 1.1 2.5 1.6 1.5 2.4-.1 2-3.2 2 1-1.2 2.3 .7 2 3.1 4 3.5 1.5 6-.3 4 .5 3.7 2.3 4.3 4.8 2 1.4 4 .7 10-.7 8 3.5 4 1 8.1-2.1 8 .6 8-2.5 4 .9 2.5 2.4 3.5 8.9 4.1 3.2 3.4 4 1.7 4 1.2 8 2 2 3.6 .3 6-3 4.1-.7 12 2 2.4 1.4 2.1 4 3.8 16 1 2 4.7 5.2 .9 2.8-.4 14.1-3.4 10-.1 2 .9 4 2.1 2.6 6 2 2.4 1.4 1.8 2 2.5 6 4.7 6 1 2 .6 4.1-.4 4-.7 2-4.9 6-.7 2 0 4 1.7 5 2 2.8 2 1.6 8.6 4.6 3.5 1.3 8 .8 9.5 5.9 14.5 4.8 10 5.1 4 2.6 3.9 5.6 4.7 4 1.2 2 .7 6 4.4 16 .2 4-4.5 12 .2 2 2.8 6.1-.2 10 .9 2 1.8 1.8 6 4.1 2 2.3 3 7.8 5 8 2.1 10 1.9 2.8 7.2 7.3 10.8 7 4 1.3 2.1 .1 10-2.1 2 .2 2 2.2 .9 5.3-.7 12 3 14 0 6-1.1 4-3.1 6.1-3 7.7-7 10.3 .2 2 7.3 6 2 4 .8 4 1 16.1-2.3 6.4-2 3-2 1.7-2 1-4 .7-16.1-.6-16-3.3-6 1.5-5.4 3.6-4.6 2.1-22.1 2.3-4.8-.4-2.8-2-.8-2 .4-4 2.2-6-.4-2-1.8-2.5-2-1.6-8-4.3-6-2-2-1.5-2.8-4.2-7.7-6-19.7-10-13.8-16-10.1-9.5-4-1.4-6 .4-4-.8-4.7-2.8-9.4-6.7-6.8-3.3-12.1-12-3.2-6-2.1-6-1.8-3-2-.5-6 2-2 .2-2.6-.7-2.4-2-4.2-8-2.9-1.4-8-1.5-3.5-3.2-4.5-6-2.7-2-3.3-1.5-4-1.1-8.9-1.4-9.1-2.7-3.1-1.3-3-2.3-2-.5-3.3 2.8-2.7 1.4-4-.6-2-1.4-3.7-5.4-2.3-1.4-2-.5-8 .6-2-.5-2-1.5-3.4-4.7-2.6-1.2-4 .8-4.7 4.4-3.3 2.1-8.1 1.8-8 4-2 .1-2-2-.2-2 .9-6-.7-1.6-2-1.6-6-1-2-1.5-1.8-4.3-1.3-6-1-2-2.6-2-9.3-4.9-8.5-3.2-1.6-1.2-.5-2.8 .5-1.5 5.1-6.5 .4-2-.2-4-5.3-10.7-3.2-9.3-1-6 .8-6-.4-2.1-4.2-4.6-.8-7.4-3.3-8-.9-4 .6-4 1.3-4 5.7-10-.2-4-4.9-6-.7-6.1-1.2-2-2.8-2-4.2-2-2.6-.6-2 .5-5.3 4.1-2.7 1.4-2 .5-2-.3-2-1.2-1.4-2.4-.2-2 2.8-8 .8-4.1-2-2-8 .3-4-1.4-3.9-2.8-1.6-2-.9-2-.2-2 .9-2 6.2-4 2.1-2 5.4-13 1.8-3.1 2-2 2.2-1 2-.1 8 2.2 2-.3 3.1-2.8 1.8-4 .9-6 .8-2 6.4-12 1.5-4 .5-6 1.5-6-3.6-10.1 1.1-4.2 2-1.5 4 3.9 2 1 4.1 0 10.4-7.2 1.6-2 .1-4-1.4-4-2.7-5-2.4-3-.7-2-.1-2 .8-2 2.4-1.1 2-.1 12 .8 4.7 2.4 3.3 4.9 2 1.9 4 1.3 4-.9 4-1.8 1.8-1.4 1.2-2 .2-2-.9-2-3.1-4-.2-2 .6-2 1.2-2zM452.8 428.6l-4 1.4-6 3.5-2.9 3.3-3.1 6.8-2 1.4-4.4 1.8-1.3 2-.2 2 1.9 5.5 2 1.7 2 .1 4-3.7 8-4.1 3.5-3.5 5.7-14 .1-2-1.3-1.8zM54.1 149.5l-2 6.1-.2 2.7 .9 2 1.3 1 2 .3 1.6-1.3 0-2zM358.9 464.9l1.8-.9 1.4 .9 .6 1.4-.5 2.6-1.5 1.3-2.2-1.3-.3-2z"/><path fill="#7cbf7b" d="M154.2 94.2l2.1-1.3 2-.1 2 1.2 4.3 4.2 7.7 4 1.4 2-.8 8 1 2 4.4 4.7 4 9.3 2 2.5 2 1.1 2 .4 4.1-.8 10-4.8 6 .1 2-.5 4-2.2 6.7-5.8 3.3-1.5 4-.1 12.1 3.6 2.5 2 1.7 4 0 4-1.7 8.1 .3 4 3.3 8 4.5 8 1.4 4.2 2 3.6 2 1.5 6 1.6 2 1.3 6 6.2 4 2.2 4 0 6-2.9 2-.2 4 1.3 4.6 3.2 4.8 10.1 .5 4-1.1 8 .6 6-5.4 9.3-4.5 4.7-.3 2 2 6 0 2-1.7 6-2.6 4-10.2 10.1-8.7 6.9-7.1 7.1-14.9 9-12.1 3.4-2.8 1.6-5.2 5.1-2 1.1-4 .4-2-.9-6-5.3-2-.6-4 .3-6-3.1-4-.5-2 .8-2 1.5-4.7 7.2-5.4 5.4-2 .9-2-.1-2-.8-3-3.4-3-6.2-2-2.7-2-1.4-3.9-1.7-2.4-2 .4-2 1.9-3.4-.4-2.6-1.6-1.9-2-.4-4 1.2-1.7-10.9-1.1-2-5.9-6-5.3-9-10.1-8.9-4-2.8-2-.6-6 .4-4-.5-6-2.6-1.7-2.1 .3-4 1.4-2.5 5.3-5.5 4.2-10 .6-4 .1-8.1 1.8-6-3.3-4-.6-2 3.8-6 .5-2 .6-4-.3-6 .5-2 1.2-2 1.6-1.3 2-.8 2.3 .1 1.7 2 .6 4 1.2 2 2.2 .9 2.1-.7 4-4.4 .9-1.8 .1-2-1-1.5-3.7-2.5-.8-2 1-6 5-8.1 .5-6.3 1.1-3.7-3.1-3.7-1.3-4.3 .1-4 1.2-2.8 2-2.8 7-4.4zM100.8 148.3l3.4-1.2 2 0 2.9 1.2 1.4 2 .4 2-.6 2-2.1 1.5-2 .2-5-1.7-1.9-2-.2-2zM267.5 150.3l3 .2 2 1.8 .9 2 .4 4-.7 2-2.6 1.4-2-.1-2-.7-2.1-2.6-.5-2 .6-3.7 2-2zM390.1 248.5l2.6-.2 2 .6 9.6 7.6 1 2 .1 2-.7 3.2-2 3-2 .8-4-1.1-4-2.2-3.8-3.7-2-4-.4-4 .9-2zM307.4 278.5l3.2-1.4 2 .1 4 1.4 2.5 1.9 3.5 5.7 2 1.8 4-.2 8-3.5 4-.7 2 1.8 1.2 7.1 .8 1.4 6 4.3 2 3 3.1 9.4 .3 2-.7 6 1.4 3.1 2 1.2 6.6 1.7 1.3 2 .9 4 1.2 1.3 2 1.1 8 2.2 8 6.1 4 .7 4-.5 8-3.5 2 1.3 1.6 3.3 .1 2-2.2 6-.1 2 1.5 4.1 3.4 6 1.8 1.2 6 2.2 2.4 2.6 3.6 10.5 4.8 5.5 .9 8 6.1 12 .6 4.1-.7 4-1.7 3.3-2.4 2.7-7.6 5.2-8 1.4-8.1 3.2-2 0-6-1.4-6-.2-6-4.3-6-2.7-4 .2-4 1.6-4 .9-6-1-8-4-7.8-2.9-2.6-2-.8-2 .7-6.1-.7-4-1.9-2-7-3.5-2-1.6-2.4-2.9-1.9-4 .2-2 .9-2 4.2-6 .7-2 3.7-12 .3-2-.8-2-2.9-1.5-2 0-6 .9-8 2.2-2-.3-2-1.5-4-5.6-2-1.5-4-1.6-6.1-4.4-8-3.7-2-1.9-1.3-3.2-.3-4 .8-4 1.1-2 5.7-6 .9-2-.1-4-1.5-6 .4-4 1.6-2 6.8-3 2-1.8 .6-1.3 .1-8 1.1-8z"/><path fill="#9cbf6f" d="M220.9 146.3l3.5 .3 2 1.1 4 3.6 2.2 3 2.4 6 .4 4-.7 4-2.3 3.8-8.1 6.2-7.9 8.8-2 1.2-2 .2-4-.9-4-2.2-4-5.7-1.7-5.4-.3-8.2-1.8-3.8-2.2-.8-2 0-2.1-1.2 1.5-2 2.8-2 9.8-6zM181.5 164.3l2.8-1.4 2 .4 .6 1-4.1 6-.9 6-.7 2-2.7 2-6.2 1-4 2.2-1.4 2.8-.7 4.1-2.4 6-.3 2 .8 2 2 1.3 4 1 6 .3 8-2 2 .3 1.8 1.1 .4 2-2.2 4.5-.8 3.5 .8 4.7 2 3.4 8.8 7.9 2.1 4-.3 2-2 2-6.3 4-2.3 .7-4-.7-6-3.5-6 1.1-4-.6-2.4-1-6.9-6-6.7-4.4-2-3.3-4.5-10.3 .6-12 1.9-4.5 3-3.5 11.5-10.1 5.5-8 2.3-2 7.7-2.9 1.4-1.1zM242.3 236.4l2.2-1.6 2-.2 3.2 1.8 6.8 5.9 2 3.5 1.8 4.7-.1 2-.7 2-3 4-4 2.7-6 2-2-.4-2-2.3-6-14 .3-2 1-2.1z"/></g>
</g>
<rect x="1.5" y="1.5" width="540.0" height="540.0" fill="none" stroke="#000" stroke-width="3.0"/>
</g>
<rect x="1391.7" y="1183.27" width="61.59999999999991" height="17.33" fill="#352a87"/>
<rect x="1391.7" y="1166.54" width="61.59999999999991" height="17.33" fill="#363093"/>
<rect x="1391.7" y="1149.81" width="61.59999999999991" height="17.33" fill="#3637a0"/>
<rect x="1391.7" y="1133.08" width="61.59999999999991" height="17.33" fill="#353dad"/>
<rect x="1391.7" y="1116.34" width="61.59999999999991" height="17.33" fill="#3243ba"/>
<rect x="1391.7" y="1099.61" width="61.59999999999991" height="17.33" fill="#2c4ac7"/>
<rect x="1391.7" y="1082.88" width="61.59999999999991" height="17.33" fill="#2053d4"/>
<rect x="1391.7" y="1066.15" width="61.59999999999991" height="17.33" fill="#0f5cdd"/>
<rect x="1391.7" y="1049.42" width="61.59999999999991" height="17.33" fill="#0363e1"/>
<rect x="1391.7" y="1032.69" width="61.59999999999991" height="17.33" fill="#0268e1"/>
<rect x="1391.7" y="1015.96" width="61.59999999999991" height="17.33" fill="#046de0"/>
<rect x="1391.7" y="999.22" width="61.59999999999991" height="17.33" fill="#0871de"/>
<rect x="1391.7" y="982.49" width="61.59999999999991" height="17.33" fill="#0d75dc"/>
<rect x="1391.7" y="965.76" width="61.59999999999991" height="17.33" fill="#1079da"/>
<rect x="1391.7" y="949.03" width="61.59999999999991" height="17.33" fill="#127dd8"/>
<rect x="1391.7" y="932.30" width="61.59999999999991" height="17.33" fill="#1481d6"/>
<rect x="1391.7" y="915.57" width="61.59999999999991" height="17.33" fill="#1485d4"/>
<rect x="1391.7" y="898.84" width="61.59999999999991" height="17.33" fill="#1389d3"/>
<rect x="1391.7" y="882.11" width="61.59999999999991" height="17.33" fill="#108ed2"/>
<rect x="1391.7" y="865.38" width="61.59999999999991" height="17.33" fill="#0c93d2"/>
<rect x="1391.7" y="848.64" width="61.59999999999991" height="17.33" fill="#0998d1"/>
<rect x="1391.7" y="831.91" width="61.59999999999991" height="17.33" fill="#079ccf"/>
<rect x="1391.7" y="815.18" width="61.59999999999991" height="17.33" fill="#06a0cd"/>
<rect x="1391.7" y="798.45" width="61.59999999999991" height="17.33" fill="#06a4ca"/>
<rect x="1391.7" y="781.72" width="61.59999999999991" height="17.33" fill="#06a7c6"/>
<rect x="1391.7" y="764.99" width="61.59999999999991" height="17.33" fill="#07a9c2"/>
<rect x="1391.7" y="748.26" width="61.59999999999991" height="17.33" fill="#0aacbe"/>
<rect x="1391.7" y="731.52" width="61.59999999999991" height="17.33" fill="#0faeb9"/>
<rect x="1391.7" y="714.79" width="61.59999999999991" height="17.33" fill="#15b1b4"/>
<rect x="1391.7" y="698.06" width="61.59999999999991" height="17.33" fill="#1db3af"/>
<rect x="1391.7" y="681.33" width="61.59999999999991" height="17.33" fill="#25b5a9"/>
<rect x="1391.7" y="664.60" width="61.59999999999991" height="17.33" fill="#2eb7a4"/>
<rect x="1391.7" y="647.87" width="61.59999999999991" height="17.33" fill="#38b99e"/>
<rect x="1391.7" y="631.14" width="61.59999999999991" height="17.33" fill="#42bb98"/>
<rect x="1391.7" y="614.41" width="61.59999999999991" height="17.33" fill="#4dbc92"/>
<rect x="1391.7" y="597.67" width="61.59999999999991" height="17.33" fill="#59bd8c"/>
<rect x="1391.7" y="580.94" width="61.59999999999991" height="17.33" fill="#65be86"/>
<rect x="1391.7" y="564.21" width="61.59999999999991" height="17.33" fill="#71bf80"/>
<rect x="1391.7" y="547.48" width="61.59999999999991" height="17.33" fill="#7cbf7b"/>
<rect x="1391.7" y="530.75" width="61.59999999999991" height="17.33" fill="#87bf77"/>
<rect x="1391.7" y="514.02" width="61.59999999999991" height="17.33" fill="#92bf73"/>
<rect x="1391.7" y="497.29" width="61.59999999999991" height="17.33" fill="#9cbf6f"/>
<rect x="1391.7" y="480.56" width="61.59999999999991" height="17.33" fill="#a5be6b"/>
<rect x="1391.7" y="463.82" width="61.59999999999991" height="17.33" fill="#aebe67"/>
<rect x="1391.7" y="447.09" width="61.59999999999991" height="17.33" fill="#b7bd64"/>
<rect x="1391.7" y="430.36" width="61.59999999999991" height="17.33" fill="#c0bc60"/>
<rect x="1391.7" y="413.63" width="61.59999999999991" height="17.33" fill="#c8bc5d"/>
<rect x="1391.7" y="396.90" width="61.59999999999991" height="17.33" fill="#d1bb59"/>
<rect x="1391.7" y="380.17" width="61.59999999999991" height="17.33" fill="#d9ba56"/>
<rect x="1391.7" y="363.44" width="61.59999999999991" height="17.33" fill="#e1b952"/>
<rect x="1391.7" y="346.71" width="61.59999999999991" height="17.33" fill="#e9b94e"/>
<rect x="1391.7" y="329.97" width="61.59999999999991" height="17.33" fill="#f1b94a"/>
<rect x="1391.7" y="313.24" width="61.59999999999991" height="17.33" fill="#f8bb44"/>
<rect x="1391.7" y="296.51" width="61.59999999999991" height="17.33" fill="#fdbe3d"/>
<rect x="1391.7" y="279.78" width="61.59999999999991" height="17.33" fill="#ffc337"/>
<rect x="1391.7" y="263.05" width="61.59999999999991" height="17.33" fill="#fec832"/>
<rect x="1391.7" y="246.32" width="61.59999999999991" height="17.33" fill="#fcce2e"/>
<rect x="1391.7" y="229.59" width="61.59999999999991" height="17.33" fill="#fad32a"/>
<rect x="1391.7" y="212.86" width="61.59999999999991" height="17.33" fill="#f7d826"/>
<rect x="1391.7" y="196.12" width="61.59999999999991" height="17.33" fill="#f5de21"/>
<rect x="1391.7" y="179.39" width="61.59999999999991" height="17.33" fill="#f5e41d"/>
<rect x="1391.7" y="162.66" width="61.59999999999991" height="17.33" fill="#f5eb18"/>
<rect x="1391.7" y="145.93" width="61.59999999999991" height="17.33" fill="#f6f313"/>
<rect x="1391.7" y="129.20" width="61.59999999999991" height="17.33" fill="#f9fb0e"/>
<rect x="1392.2" y="127.7" width="60.59999999999991" height="1073.8" fill="none" stroke="#000" stroke-width="3.0"/>
<path d="M1393.7 396.3h9.5M1451.3 396.3h-9.5" stroke="#000" stroke-width="2.6" fill="none"/>
<path d="M1393.7 664.3h9.5M1451.3 664.3h-9.5" stroke="#000" stroke-width="2.6" fill="none"/>
<path d="M1393.7 933h9.5M1451.3 933h-9.5" stroke="#000" stroke-width="2.6" fill="none"/>
<rect x="2923.3" y="1183.17" width="62.19999999999982" height="17.43" fill="#352a87"/>
<rect x="2923.3" y="1166.34" width="62.19999999999982" height="17.43" fill="#363093"/>
<rect x="2923.3" y="1149.52" width="62.19999999999982" height="17.43" fill="#3637a0"/>
<rect x="2923.3" y="1132.69" width="62.19999999999982" height="17.43" fill="#353dad"/>
<rect x="2923.3" y="1115.86" width="62.19999999999982" height="17.43" fill="#3243ba"/>
<rect x="2923.3" y="1099.03" width="62.19999999999982" height="17.43" fill="#2c4ac7"/>
<rect x="2923.3" y="1082.20" width="62.19999999999982" height="17.43" fill="#2053d4"/>
<rect x="2923.3" y="1065.38" width="62.19999999999982" height="17.43" fill="#0f5cdd"/>
<rect x="2923.3" y="1048.55" width="62.19999999999982" height="17.43" fill="#0363e1"/>
<rect x="2923.3" y="1031.72" width="62.19999999999982" height="17.43" fill="#0268e1"/>
<rect x="2923.3" y="1014.89" width="62.19999999999982" height="17.43" fill="#046de0"/>
<rect x="2923.3" y="998.06" width="62.19999999999982" height="17.43" fill="#0871de"/>
<rect x="2923.3" y="981.23" width="62.19999999999982" height="17.43" fill="#0d75dc"/>
<rect x="2923.3" y="964.41" width="62.19999999999982" height="17.43" fill="#1079da"/>
<rect x="2923.3" y="947.58" width="62.19999999999982" height="17.43" fill="#127dd8"/>
<rect x="2923.3" y="930.75" width="62.19999999999982" height="17.43" fill="#1481d6"/>
<rect x="2923.3" y="913.92" width="62.19999999999982" height="17.43" fill="#1485d4"/>
<rect x="2923.3" y="897.09" width="62.19999999999982" height="17.43" fill="#1389d3"/>
<rect x="2923.3" y="880.27" width="62.19999999999982" height="17.43" fill="#108ed2"/>
<rect x="2923.3" y="863.44" width="62.19999999999982" height="17.43" fill="#0c93d2"/>
<rect x="2923.3" y="846.61" width="62.19999999999982" height="17.43" fill="#0998d1"/>
<rect x="2923.3" y="829.78" width="62.19999999999982" height="17.43" fill="#079ccf"/>
<rect x="2923.3" y="812.95" width="62.19999999999982" height="17.43" fill="#06a0cd"/>
<rect x="2923.3" y="796.12" width="62.19999999999982" height="17.43" fill="#06a4ca"/>
<rect x="2923.3" y="779.30" width="62.19999999999982" height="17.43" fill="#06a7c6"/>
<rect x="2923.3" y="762.47" width="62.19999999999982" height="17.43" fill="#07a9c2"/>
<rect x="2923.3" y="745.64" width="62.19999999999982" height="17.43" fill="#0aacbe"/>
<rect x="2923.3" y="728.81" width="62.19999999999982" height="17.43" fill="#0faeb9"/>
<rect x="2923.3" y="711.98" width="62.19999999999982" height="17.43" fill="#15b1b4"/>
<rect x="2923.3" y="695.16" width="62.19999999999982" height="17.43" fill="#1db3af"/>
<rect x="2923.3" y="678.33" width="62.19999999999982" height="17.43" fill="#25b5a9"/>
<rect x="2923.3" y="661.50" width="62.19999999999982" height="17.43" fill="#2eb7a4"/>
<rect x="2923.3" y="644.67" width="62.19999999999982" height="17.43" fill="#38b99e"/>
<rect x="2923.3" y="627.84" width="62.19999999999982" height="17.43" fill="#42bb98"/>
<rect x="2923.3" y="611.02" width="62.19999999999982" height="17.43" fill="#4dbc92"/>
<rect x="2923.3" y="594.19" width="62.19999999999982" height="17.43" fill="#59bd8c"/>
<rect x="2923.3" y="577.36" width="62.19999999999982" height="17.43" fill="#65be86"/>
<rect x="2923.3" y="560.53" width="62.19999999999982" height="17.43" fill="#71bf80"/>
<rect x="2923.3" y="543.70" width="62.19999999999982" height="17.43" fill="#7cbf7b"/>
<rect x="2923.3" y="526.88" width="62.19999999999982" height="17.43" fill="#87bf77"/>
<rect x="2923.3" y="510.05" width="62.19999999999982" height="17.43" fill="#92bf73"/>
<rect x="2923.3" y="493.22" width="62.19999999999982" height="17.43" fill="#9cbf6f"/>
<rect x="2923.3" y="476.39" width="62.19999999999982" height="17.43" fill="#a5be6b"/>
<rect x="2923.3" y="459.56" width="62.19999999999982" height="17.43" fill="#aebe67"/>
<rect x="2923.3" y="442.73" width="62.19999999999982" height="17.43" fill="#b7bd64"/>
<rect x="2923.3" y="425.91" width="62.19999999999982" height="17.43" fill="#c0bc60"/>
<rect x="2923.3" y="409.08" width="62.19999999999982" height="17.43" fill="#c8bc5d"/>
<rect x="2923.3" y="392.25" width="62.19999999999982" height="17.43" fill="#d1bb59"/>
<rect x="2923.3" y="375.42" width="62.19999999999982" height="17.43" fill="#d9ba56"/>
<rect x="2923.3" y="358.59" width="62.19999999999982" height="17.43" fill="#e1b952"/>
<rect x="2923.3" y="341.77" width="62.19999999999982" height="17.43" fill="#e9b94e"/>
<rect x="2923.3" y="324.94" width="62.19999999999982" height="17.43" fill="#f1b94a"/>
<rect x="2923.3" y="308.11" width="62.19999999999982" height="17.43" fill="#f8bb44"/>
<rect x="2923.3" y="291.28" width="62.19999999999982" height="17.43" fill="#fdbe3d"/>
<rect x="2923.3" y="274.45" width="62.19999999999982" height="17.43" fill="#ffc337"/>
<rect x="2923.3" y="257.62" width="62.19999999999982" height="17.43" fill="#fec832"/>
<rect x="2923.3" y="240.80" width="62.19999999999982" height="17.43" fill="#fcce2e"/>
<rect x="2923.3" y="223.97" width="62.19999999999982" height="17.43" fill="#fad32a"/>
<rect x="2923.3" y="207.14" width="62.19999999999982" height="17.43" fill="#f7d826"/>
<rect x="2923.3" y="190.31" width="62.19999999999982" height="17.43" fill="#f5de21"/>
<rect x="2923.3" y="173.48" width="62.19999999999982" height="17.43" fill="#f5e41d"/>
<rect x="2923.3" y="156.66" width="62.19999999999982" height="17.43" fill="#f5eb18"/>
<rect x="2923.3" y="139.83" width="62.19999999999982" height="17.43" fill="#f6f313"/>
<rect x="2923.3" y="123.00" width="62.19999999999982" height="17.43" fill="#f9fb0e"/>
<rect x="2923.8" y="121.5" width="61.19999999999982" height="1080.0" fill="none" stroke="#000" stroke-width="3.0"/>
<path d="M2925.3 391.2h9.5M2983.5 391.2h-9.5" stroke="#000" stroke-width="2.6" fill="none"/>
<path d="M2925.3 660.3h9.5M2983.5 660.3h-9.5" stroke="#000" stroke-width="2.6" fill="none"/>
<path d="M2925.3 930.3h9.5M2983.5 930.3h-9.5" stroke="#000" stroke-width="2.6" fill="none"/>
<text x="5.1" y="75.6" font-size="73.5" text-anchor="start">(</text>
<text x="31.3" y="78.6" font-size="80.0" text-anchor="start" font-style="italic">a</text>
<text x="99" y="75.6" font-size="73.5" text-anchor="end">)</text>
<text x="1717.8" y="74.9" font-size="74.4" text-anchor="start">(</text>
<text x="1744" y="77.5" font-size="80.0" text-anchor="start" font-style="italic">b</text>
<text x="1811.9" y="74.9" font-size="74.4" text-anchor="end">)</text>
<text x="245.8" y="151.4" font-size="67.4" text-anchor="end">2.0</text>
<text x="243.0" y="423.1" font-size="67.4" text-anchor="end">1.5</text>
<text x="245.8" y="695.1" font-size="67.4" text-anchor="end">1.0</text>
<text x="243.0" y="966.9" font-size="67.4" text-anchor="end">0.5</text>
<text x="229.7" y="1286.9" font-size="67.4" text-anchor="middle">0</text>
<text x="544.7" y="1286.9" font-size="67.4" text-anchor="middle">0.5</text>
<text x="820.5" y="1286.9" font-size="67.4" text-anchor="middle">1.0</text>
<text x="1091.7" y="1286.9" font-size="67.4" text-anchor="middle">1.5</text>
<text x="1362.5" y="1286.9" font-size="67.4" text-anchor="middle">2.0</text>
<text x="1803.9" y="1286.7" font-size="67.4" text-anchor="middle">0</text>
<text x="2075" y="1286.7" font-size="67.4" text-anchor="middle">0.5</text>
<text x="2351.3" y="1286.7" font-size="67.4" text-anchor="middle">1.0</text>
<text x="2622.4" y="1286.7" font-size="67.4" text-anchor="middle">1.5</text>
<text x="2893.4" y="1286.7" font-size="67.4" text-anchor="middle">2.0</text>
<text x="1476.5" y="156.2" font-size="67.4" text-anchor="start">9.10</text>
<text x="1474.5" y="422.7" font-size="67.4" text-anchor="start">4.55</text>
<text x="1476" y="690.1" font-size="67.4" text-anchor="start">0</text>
<path d="M1481.4 944.6999999999999h41" stroke="#000" stroke-width="3.8" fill="none"/>
<text x="1526.5" y="961.4" font-size="67.4" text-anchor="start">4.55</text>
<path d="M1481.4 1207.6h41" stroke="#000" stroke-width="3.8" fill="none"/>
<text x="1525.5" y="1224.3" font-size="67.4" text-anchor="start">9.10</text>
<text x="3012.5" y="148.5" font-size="67.4" text-anchor="start">1.06</text>
<text x="3010.5" y="417.7" font-size="67.4" text-anchor="start">0.53</text>
<text x="3011.5" y="685.1" font-size="67.4" text-anchor="start">0</text>
<path d="M3016.7 936.9h41" stroke="#000" stroke-width="3.8" fill="none"/>
<text x="3062" y="953.6" font-size="67.4" text-anchor="start">0.53</text>
<path d="M3016.7 1205.2h41" stroke="#000" stroke-width="3.8" fill="none"/>
<text x="3062" y="1221.9" font-size="67.4" text-anchor="start">1.06</text>
<text x="1379.2" y="78.7" font-size="62.7" text-anchor="start">(</text>
<path d="M1408 50.3l31.7 28.4M1439.7 50.3l-31.7 28.4" stroke="#000" stroke-width="3.3" fill="none"/>
<text x="1463.6" y="80" font-size="67.4" text-anchor="start">10</text>
<path d="M1532.5 43.7h27.4" stroke="#000" stroke-width="3" fill="none"/>
<text x="1563.5" y="54.8" font-size="44" text-anchor="start">4</text>
<text x="1608.8" y="78.7" font-size="62.7" text-anchor="end">)</text>
<text x="2916.3" y="78.7" font-size="62.7" text-anchor="start">(</text>
<path d="M2945.1 50.3l31.7 28.4M2976.8 50.3l-31.7 28.4" stroke="#000" stroke-width="3.3" fill="none"/>
<text x="3000.7" y="80" font-size="67.4" text-anchor="start">10</text>
<path d="M3069.6 43.7h27.4" stroke="#000" stroke-width="3" fill="none"/>
<text x="3100.6" y="54.8" font-size="44" text-anchor="start">3</text>
<text x="3145.8999999999996" y="78.7" font-size="62.7" text-anchor="end">)</text>
<text x="763" y="1394.2" font-size="80.0" text-anchor="start" font-style="italic">z</text>
<path d="M798.5 1410.7L825 1341.0" stroke="#000" stroke-width="4.6" fill="none"/>
<text x="833" y="1394.2" font-size="80.0" text-anchor="start" font-style="italic">h</text>
<text x="2293.4" y="1393.9" font-size="80.0" text-anchor="start" font-style="italic">z</text>
<path d="M2328.9 1410.4L2355.4 1340.7" stroke="#000" stroke-width="4.6" fill="none"/>
<text x="2363.4" y="1393.9" font-size="80.0" text-anchor="start" font-style="italic">h</text>
<g transform="translate(111.9,736) rotate(-90)">
<text x="8.6" y="0" font-size="80.0" text-anchor="start" font-style="italic">y</text>
<path d="M43.8 16.5L70.5 -54.3" stroke="#000" stroke-width="4.6" fill="none"/>
<text x="76" y="0" font-size="80.0" text-anchor="start" font-style="italic">h</text>
</g>
<text transform="translate(427.8,960.4) scale(1.13,0.93)" font-size="66.7" font-style="italic">ϕ</text>
<path d="M483.8 937.1h44.5M483.8 950.4h44.5" stroke="#000" stroke-width="4.6" fill="none"/>
<text x="543.8" y="960.4" font-size="67.4" text-anchor="start">0.20</text>
<text transform="translate(973.6999999999999,409.2) scale(1.13,0.93)" font-size="66.7" font-style="italic">ϕ</text>
<path d="M1029.7 385.9h44.5M1029.7 399.2h44.5" stroke="#000" stroke-width="4.6" fill="none"/>
<text x="1089.7" y="409.2" font-size="67.4" text-anchor="start">0.05</text>
<text transform="translate(973.6999999999999,960.4) scale(1.13,0.93)" font-size="66.7" font-style="italic">ϕ</text>
<path d="M1029.7 937.1h44.5M1029.7 950.4h44.5" stroke="#000" stroke-width="4.6" fill="none"/>
<text x="1089.7" y="960.4" font-size="67.4" text-anchor="start">0.10</text>
<text transform="translate(2508.8,408.3) scale(1.13,0.93)" font-size="66.7" font-style="italic">ϕ</text>
<path d="M2564.8 385.0h44.5M2564.8 398.3h44.5" stroke="#000" stroke-width="4.6" fill="none"/>
<text x="2624.8" y="408.3" font-size="67.4" text-anchor="start">0.05</text>
<text transform="translate(1963.0,959.9) scale(1.13,0.93)" font-size="66.7" font-style="italic">ϕ</text>
<path d="M2019.0 936.6h44.5M2019.0 949.9h44.5" stroke="#000" stroke-width="4.6" fill="none"/>
<text x="2079.0" y="959.9" font-size="67.4" text-anchor="start">0.20</text>
<text transform="translate(2508.8,959.9) scale(1.13,0.93)" font-size="66.7" font-style="italic">ϕ</text>
<path d="M2564.8 936.6h44.5M2564.8 949.9h44.5" stroke="#000" stroke-width="4.6" fill="none"/>
<text x="2624.8" y="959.9" font-size="67.4" text-anchor="start">0.10</text>
</svg>
</body></html>
